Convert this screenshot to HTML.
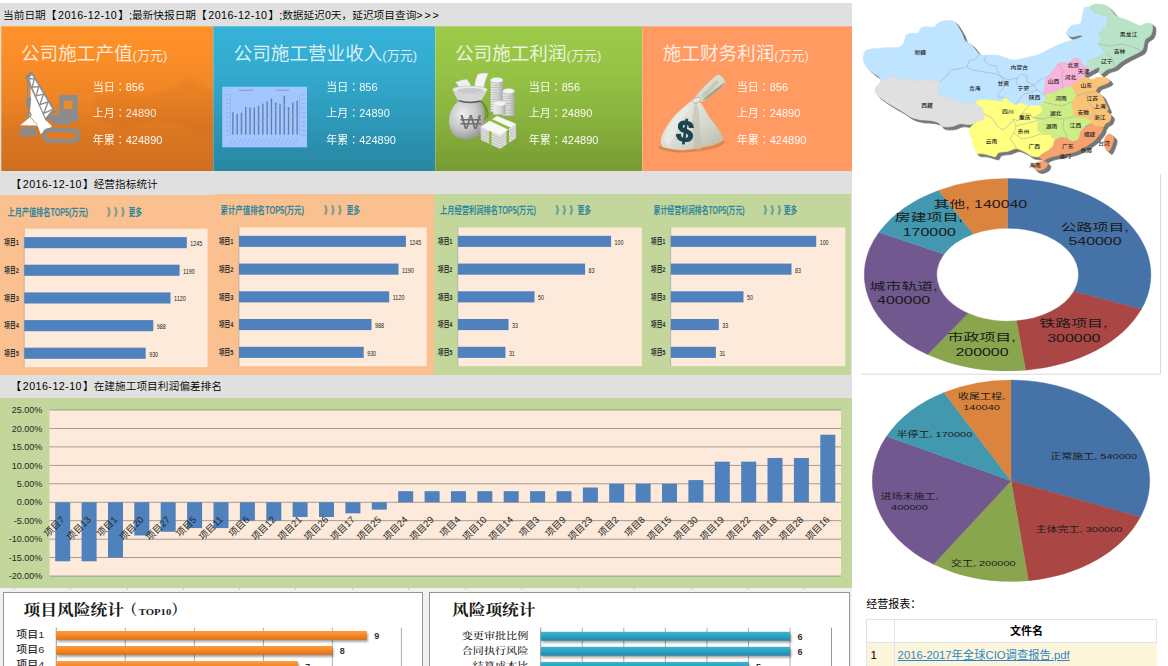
<!DOCTYPE html>
<html lang="zh-CN"><head><meta charset="utf-8"><title>经营看板</title>
<style>
html,body{margin:0;padding:0;background:#fff;}
body{width:1168px;height:666px;overflow:hidden;position:relative;font-family:"Liberation Sans","Noto Sans CJK SC",sans-serif;font-size:11px;color:#000;}
.abs{position:absolute;}
#left{position:absolute;left:0;top:3px;width:851.5px;height:588.5px;background:#e0e0e0;}
.bar{position:absolute;left:0;width:851.5px;white-space:nowrap;font-size:10.7px;line-height:14px;color:#000;font-weight:350;}
.bar b{font-weight:normal;letter-spacing:.45px;margin:0 1px 0 1.6px}
.card{position:absolute;top:26px;height:144.8px;overflow:hidden;box-shadow:inset 1px 1px 0 rgba(255,255,255,.22);}
.card .t{position:absolute;top:15px;white-space:nowrap;font-size:18.6px;line-height:26px;color:rgba(255,255,255,.82);}
.card .t small{font-size:13px;}
.card .l i{font-style:normal;font-family:"Liberation Sans","Noto Sans CJK JP",sans-serif;line-height:0}
.card .l{position:absolute;white-space:nowrap;font-size:11px;line-height:14px;color:#fff;opacity:.95}
svg{position:absolute;left:0;top:0;overflow:visible}
svg text{font-family:"Liberation Sans","Noto Sans CJK SC",sans-serif;}
.serif{font-family:"Liberation Serif","Noto Serif CJK SC",serif;}
</style></head>
<body>
<div id="left"></div>
<div class="bar" style="top:7.5px;left:3px">当前日期【<b>2016-12-10</b>】;最新快报日期【<b>2016-12-10</b>】;数据延迟0天，延迟项目查询<span style="letter-spacing:1.9px">&gt;&gt;&gt;</span></div>
<div class="card" style="left:1px;width:212.3px;background:linear-gradient(180deg,#ff9229 0%,#fa8c27 25%,#ee8425 50%,#dc7822 72%,#cd6d1f 100%)"><div class="t" style="left:20px">公司施工产值<small>(万元)</small></div><div class="l" style="left:91.7px;top:53.6px">当日<i lang="ja">：</i>856</div><div class="l" style="left:91.7px;top:80.4px">上月<i lang="ja">：</i>24890</div><div class="l" style="left:91.7px;top:107.2px">年累<i lang="ja">：</i>424890</div></div>
<div class="card" style="left:213.3px;width:221.5px;background:linear-gradient(180deg,#36b2d8 0%,#33abd0 30%,#2e9cbd 60%,#2a8eab 85%,#2888a3 100%)"><div class="t" style="left:20.3px">公司施工营业收入<small>(万元)</small></div><div class="l" style="left:112.9px;top:53.6px">当日<i lang="ja">：</i>856</div><div class="l" style="left:112.9px;top:80.4px">上月<i lang="ja">：</i>24890</div><div class="l" style="left:112.9px;top:107.2px">年累<i lang="ja">：</i>424890</div></div>
<div class="card" style="left:434.8px;width:207.2px;background:linear-gradient(180deg,#9dca4a 0%,#97c346 30%,#8ab53e 60%,#7ea537 85%,#789b34 100%)"><div class="t" style="left:20.2px">公司施工利润<small>(万元)</small></div><div class="l" style="left:93.9px;top:53.6px">当日<i lang="ja">：</i>856</div><div class="l" style="left:93.9px;top:80.4px">上月<i lang="ja">：</i>24890</div><div class="l" style="left:93.9px;top:107.2px">年累<i lang="ja">：</i>424890</div></div>
<div class="card" style="left:642px;width:209.5px;background:#ff9a63"><div class="t" style="left:20.7px">施工财务利润<small>(万元)</small></div><div class="l" style="left:94.7px;top:53.6px">当日<i lang="ja">：</i>856</div><div class="l" style="left:94.7px;top:80.4px">上月<i lang="ja">：</i>24890</div><div class="l" style="left:94.7px;top:107.2px">年累<i lang="ja">：</i>424890</div></div>
<div class="bar" style="top:176.7px;left:10.5px">【<b>2016-12-10</b>】经营指标统计</div>
<div class="abs" style="left:0;top:194.8px;width:213.6px;height:180px;background:#fac090"></div>
<div class="abs" style="left:213.6px;top:193.9px;width:220.3px;height:181px;border-top-left-radius:2px;background:#fac090"></div>
<div class="abs" style="left:433.8px;top:193.9px;width:417.7px;height:181px;background:#c3d69b"></div>
<svg width="1168" height="666" viewBox="0 0 1168 666"><rect x="24.2" y="228.75" width="183.4" height="138.4" fill="#fdeada"/><rect x="23.8" y="228.75" width="0.7" height="138.4" fill="#a8a8a8"/><rect x="24.2" y="237.1" width="162.6" height="11.1" fill="#4f81bd"/><text x="190.3" y="246.0" font-size="7.6" fill="#222" textLength="11.8" lengthAdjust="spacingAndGlyphs">1245</text><text x="4.3" y="245.4" font-size="8" fill="#303030" font-weight="bold" textLength="14.5" lengthAdjust="spacingAndGlyphs">项目1</text><rect x="24.2" y="264.7" width="155.4" height="11.1" fill="#4f81bd"/><text x="183.1" y="273.7" font-size="7.6" fill="#222" textLength="11.8" lengthAdjust="spacingAndGlyphs">1190</text><text x="4.3" y="273.1" font-size="8" fill="#303030" font-weight="bold" textLength="14.5" lengthAdjust="spacingAndGlyphs">项目2</text><rect x="24.2" y="292.4" width="146.3" height="11.1" fill="#4f81bd"/><text x="174.0" y="301.3" font-size="7.6" fill="#222" textLength="11.8" lengthAdjust="spacingAndGlyphs">1120</text><text x="4.3" y="300.7" font-size="8" fill="#303030" font-weight="bold" textLength="14.5" lengthAdjust="spacingAndGlyphs">项目3</text><rect x="24.2" y="320.1" width="129.1" height="11.1" fill="#4f81bd"/><text x="156.8" y="329.0" font-size="7.6" fill="#222" textLength="8.9" lengthAdjust="spacingAndGlyphs">988</text><text x="4.3" y="328.4" font-size="8" fill="#303030" font-weight="bold" textLength="14.5" lengthAdjust="spacingAndGlyphs">项目4</text><rect x="24.2" y="347.7" width="121.5" height="11.1" fill="#4f81bd"/><text x="149.2" y="356.7" font-size="7.6" fill="#222" textLength="8.9" lengthAdjust="spacingAndGlyphs">930</text><text x="4.3" y="356.1" font-size="8" fill="#303030" font-weight="bold" textLength="14.5" lengthAdjust="spacingAndGlyphs">项目5</text><text x="7.5" y="216.1" font-size="10.6" fill="#31869b" font-weight="bold" textLength="80.5" lengthAdjust="spacingAndGlyphs">上月产值排名TOP5(万元)</text><text x="107.0" y="216.1" font-size="10.6" fill="#31869b" font-weight="bold" textLength="6.8" lengthAdjust="spacingAndGlyphs">》</text><text x="114.0" y="216.1" font-size="10.6" fill="#31869b" font-weight="bold" textLength="6.8" lengthAdjust="spacingAndGlyphs">》</text><text x="121.0" y="216.1" font-size="10.6" fill="#31869b" font-weight="bold" textLength="6.8" lengthAdjust="spacingAndGlyphs">》</text><text x="128.4" y="216.1" font-size="10.6" fill="#31869b" font-weight="bold" textLength="13.6" lengthAdjust="spacingAndGlyphs">更多</text><rect x="239.0" y="227.5" width="187.7" height="138.7" fill="#fdeada"/><rect x="238.6" y="227.5" width="0.7" height="138.7" fill="#a8a8a8"/><rect x="239.0" y="235.8" width="166.9" height="11.1" fill="#4f81bd"/><text x="409.4" y="244.8" font-size="7.6" fill="#222" textLength="11.8" lengthAdjust="spacingAndGlyphs">1245</text><text x="218.9" y="244.2" font-size="8" fill="#303030" font-weight="bold" textLength="14.5" lengthAdjust="spacingAndGlyphs">项目1</text><rect x="239.0" y="263.6" width="159.5" height="11.1" fill="#4f81bd"/><text x="402.0" y="272.5" font-size="7.6" fill="#222" textLength="11.8" lengthAdjust="spacingAndGlyphs">1190</text><text x="218.9" y="271.9" font-size="8" fill="#303030" font-weight="bold" textLength="14.5" lengthAdjust="spacingAndGlyphs">项目2</text><rect x="239.0" y="291.3" width="150.2" height="11.1" fill="#4f81bd"/><text x="392.7" y="300.2" font-size="7.6" fill="#222" textLength="11.8" lengthAdjust="spacingAndGlyphs">1120</text><text x="218.9" y="299.7" font-size="8" fill="#303030" font-weight="bold" textLength="14.5" lengthAdjust="spacingAndGlyphs">项目3</text><rect x="239.0" y="319.0" width="132.5" height="11.1" fill="#4f81bd"/><text x="375.0" y="328.0" font-size="7.6" fill="#222" textLength="8.9" lengthAdjust="spacingAndGlyphs">988</text><text x="218.9" y="327.4" font-size="8" fill="#303030" font-weight="bold" textLength="14.5" lengthAdjust="spacingAndGlyphs">项目4</text><rect x="239.0" y="346.8" width="124.7" height="11.1" fill="#4f81bd"/><text x="367.2" y="355.7" font-size="7.6" fill="#222" textLength="8.9" lengthAdjust="spacingAndGlyphs">930</text><text x="218.9" y="355.1" font-size="8" fill="#303030" font-weight="bold" textLength="14.5" lengthAdjust="spacingAndGlyphs">项目5</text><text x="220.5" y="214.1" font-size="10.6" fill="#31869b" font-weight="bold" textLength="83.5" lengthAdjust="spacingAndGlyphs">累计产值排名TOP5(万元)</text><text x="324.0" y="214.1" font-size="10.6" fill="#31869b" font-weight="bold" textLength="6.8" lengthAdjust="spacingAndGlyphs">》</text><text x="331.0" y="214.1" font-size="10.6" fill="#31869b" font-weight="bold" textLength="6.8" lengthAdjust="spacingAndGlyphs">》</text><text x="338.0" y="214.1" font-size="10.6" fill="#31869b" font-weight="bold" textLength="6.8" lengthAdjust="spacingAndGlyphs">》</text><text x="346.4" y="214.1" font-size="10.6" fill="#31869b" font-weight="bold" textLength="13.6" lengthAdjust="spacingAndGlyphs">更多</text><rect x="457.9" y="227.5" width="183.9" height="138.7" fill="#fdeada"/><rect x="457.5" y="227.5" width="0.7" height="138.7" fill="#a8a8a8"/><rect x="457.9" y="235.8" width="153.2" height="11.1" fill="#4f81bd"/><text x="614.6" y="244.8" font-size="7.6" fill="#222" textLength="8.9" lengthAdjust="spacingAndGlyphs">100</text><text x="438.0" y="244.2" font-size="8" fill="#303030" font-weight="bold" textLength="14.5" lengthAdjust="spacingAndGlyphs">项目1</text><rect x="457.9" y="263.6" width="127.2" height="11.1" fill="#4f81bd"/><text x="588.6" y="272.5" font-size="7.6" fill="#222" textLength="5.9" lengthAdjust="spacingAndGlyphs">83</text><text x="438.0" y="271.9" font-size="8" fill="#303030" font-weight="bold" textLength="14.5" lengthAdjust="spacingAndGlyphs">项目2</text><rect x="457.9" y="291.3" width="76.6" height="11.1" fill="#4f81bd"/><text x="538.0" y="300.2" font-size="7.6" fill="#222" textLength="5.9" lengthAdjust="spacingAndGlyphs">50</text><text x="438.0" y="299.7" font-size="8" fill="#303030" font-weight="bold" textLength="14.5" lengthAdjust="spacingAndGlyphs">项目3</text><rect x="457.9" y="319.0" width="50.6" height="11.1" fill="#4f81bd"/><text x="512.0" y="328.0" font-size="7.6" fill="#222" textLength="5.9" lengthAdjust="spacingAndGlyphs">33</text><text x="438.0" y="327.4" font-size="8" fill="#303030" font-weight="bold" textLength="14.5" lengthAdjust="spacingAndGlyphs">项目4</text><rect x="457.9" y="346.8" width="47.5" height="11.1" fill="#4f81bd"/><text x="508.9" y="355.7" font-size="7.6" fill="#222" textLength="5.9" lengthAdjust="spacingAndGlyphs">31</text><text x="438.0" y="355.1" font-size="8" fill="#303030" font-weight="bold" textLength="14.5" lengthAdjust="spacingAndGlyphs">项目5</text><text x="440" y="214.1" font-size="10.6" fill="#31869b" font-weight="bold" textLength="96" lengthAdjust="spacingAndGlyphs">上月经营利润排名TOP5(万元)</text><text x="555.4" y="214.1" font-size="10.6" fill="#31869b" font-weight="bold" textLength="6.8" lengthAdjust="spacingAndGlyphs">》</text><text x="562.4" y="214.1" font-size="10.6" fill="#31869b" font-weight="bold" textLength="6.8" lengthAdjust="spacingAndGlyphs">》</text><text x="569.4" y="214.1" font-size="10.6" fill="#31869b" font-weight="bold" textLength="6.8" lengthAdjust="spacingAndGlyphs">》</text><text x="577.4" y="214.1" font-size="10.6" fill="#31869b" font-weight="bold" textLength="13.6" lengthAdjust="spacingAndGlyphs">更多</text><rect x="670.8" y="227.5" width="174.5" height="138.7" fill="#fdeada"/><rect x="670.4" y="227.5" width="0.7" height="138.7" fill="#a8a8a8"/><rect x="670.8" y="235.8" width="145.4" height="11.1" fill="#4f81bd"/><text x="819.7" y="244.8" font-size="7.6" fill="#222" textLength="8.9" lengthAdjust="spacingAndGlyphs">100</text><text x="651.0" y="244.2" font-size="8" fill="#303030" font-weight="bold" textLength="14.5" lengthAdjust="spacingAndGlyphs">项目1</text><rect x="670.8" y="263.6" width="120.7" height="11.1" fill="#4f81bd"/><text x="795.0" y="272.5" font-size="7.6" fill="#222" textLength="5.9" lengthAdjust="spacingAndGlyphs">83</text><text x="651.0" y="271.9" font-size="8" fill="#303030" font-weight="bold" textLength="14.5" lengthAdjust="spacingAndGlyphs">项目2</text><rect x="670.8" y="291.3" width="72.7" height="11.1" fill="#4f81bd"/><text x="747.0" y="300.2" font-size="7.6" fill="#222" textLength="5.9" lengthAdjust="spacingAndGlyphs">50</text><text x="651.0" y="299.7" font-size="8" fill="#303030" font-weight="bold" textLength="14.5" lengthAdjust="spacingAndGlyphs">项目3</text><rect x="670.8" y="319.0" width="48.0" height="11.1" fill="#4f81bd"/><text x="722.3" y="328.0" font-size="7.6" fill="#222" textLength="5.9" lengthAdjust="spacingAndGlyphs">33</text><text x="651.0" y="327.4" font-size="8" fill="#303030" font-weight="bold" textLength="14.5" lengthAdjust="spacingAndGlyphs">项目4</text><rect x="670.8" y="346.8" width="45.1" height="11.1" fill="#4f81bd"/><text x="719.4" y="355.7" font-size="7.6" fill="#222" textLength="5.9" lengthAdjust="spacingAndGlyphs">31</text><text x="651.0" y="355.1" font-size="8" fill="#303030" font-weight="bold" textLength="14.5" lengthAdjust="spacingAndGlyphs">项目5</text><text x="653.6" y="214.1" font-size="10.6" fill="#31869b" font-weight="bold" textLength="91.0" lengthAdjust="spacingAndGlyphs">累计经营利润排名TOP5(万元)</text><text x="763.4" y="214.1" font-size="10.6" fill="#31869b" font-weight="bold" textLength="6.8" lengthAdjust="spacingAndGlyphs">》</text><text x="770.4" y="214.1" font-size="10.6" fill="#31869b" font-weight="bold" textLength="6.8" lengthAdjust="spacingAndGlyphs">》</text><text x="777.4" y="214.1" font-size="10.6" fill="#31869b" font-weight="bold" textLength="6.8" lengthAdjust="spacingAndGlyphs">》</text><text x="783.8" y="214.1" font-size="10.6" fill="#31869b" font-weight="bold" textLength="13.6" lengthAdjust="spacingAndGlyphs">更多</text></svg>
<div class="bar" style="top:379.2px;left:10.5px">【<b>2016-12-10</b>】在建施工项目利润偏差排名</div>
<div class="abs" style="left:0;top:398px;width:851.5px;height:189.7px;background:#c3d69b"></div><svg width="1168" height="666" viewBox="0 0 1168 666"><rect x="49.5" y="410.00" width="791.5" height="166.05" fill="#fdeada"/><rect x="49.5" y="575.65" width="791.5" height="0.8" fill="#8a8a8a"/><text x="42.3" y="579.2" font-size="9" fill="#262626" text-anchor="end">-20.00%</text><rect x="49.5" y="557.20" width="791.5" height="0.8" fill="#8a8a8a"/><text x="42.3" y="560.8" font-size="9" fill="#262626" text-anchor="end">-15.00%</text><rect x="49.5" y="538.75" width="791.5" height="0.8" fill="#8a8a8a"/><text x="42.3" y="542.4" font-size="9" fill="#262626" text-anchor="end">-10.00%</text><rect x="49.5" y="520.30" width="791.5" height="0.8" fill="#8a8a8a"/><text x="42.3" y="523.9" font-size="9" fill="#262626" text-anchor="end">-5.00%</text><rect x="49.5" y="501.85" width="791.5" height="0.8" fill="#8a8a8a"/><text x="42.3" y="505.4" font-size="9" fill="#262626" text-anchor="end">0.00%</text><rect x="49.5" y="483.40" width="791.5" height="0.8" fill="#8a8a8a"/><text x="42.3" y="487.0" font-size="9" fill="#262626" text-anchor="end">5.00%</text><rect x="49.5" y="464.95" width="791.5" height="0.8" fill="#8a8a8a"/><text x="42.3" y="468.6" font-size="9" fill="#262626" text-anchor="end">10.00%</text><rect x="49.5" y="446.50" width="791.5" height="0.8" fill="#8a8a8a"/><text x="42.3" y="450.1" font-size="9" fill="#262626" text-anchor="end">15.00%</text><rect x="49.5" y="428.05" width="791.5" height="0.8" fill="#8a8a8a"/><text x="42.3" y="431.6" font-size="9" fill="#262626" text-anchor="end">20.00%</text><rect x="49.5" y="409.60" width="791.5" height="0.8" fill="#8a8a8a"/><text x="42.3" y="413.2" font-size="9" fill="#262626" text-anchor="end">25.00%</text><rect x="55.2" y="502.25" width="15.0" height="59.04" fill="#4f81bd"/><rect x="81.6" y="502.25" width="15.0" height="59.04" fill="#4f81bd"/><rect x="108.0" y="502.25" width="15.0" height="55.35" fill="#4f81bd"/><rect x="134.3" y="502.25" width="15.0" height="33.21" fill="#4f81bd"/><rect x="160.7" y="502.25" width="15.0" height="29.52" fill="#4f81bd"/><rect x="187.1" y="502.25" width="15.0" height="25.83" fill="#4f81bd"/><rect x="213.5" y="502.25" width="15.0" height="25.83" fill="#4f81bd"/><rect x="239.9" y="502.25" width="15.0" height="18.45" fill="#4f81bd"/><rect x="266.3" y="502.25" width="15.0" height="18.45" fill="#4f81bd"/><rect x="292.6" y="502.25" width="15.0" height="14.76" fill="#4f81bd"/><rect x="319.0" y="502.25" width="15.0" height="14.76" fill="#4f81bd"/><rect x="345.4" y="502.25" width="15.0" height="11.07" fill="#4f81bd"/><rect x="371.8" y="502.25" width="15.0" height="7.38" fill="#4f81bd"/><rect x="398.2" y="491.18" width="15.0" height="11.07" fill="#4f81bd"/><rect x="424.6" y="491.18" width="15.0" height="11.07" fill="#4f81bd"/><rect x="450.9" y="491.18" width="15.0" height="11.07" fill="#4f81bd"/><rect x="477.3" y="491.18" width="15.0" height="11.07" fill="#4f81bd"/><rect x="503.7" y="491.18" width="15.0" height="11.07" fill="#4f81bd"/><rect x="530.1" y="491.18" width="15.0" height="11.07" fill="#4f81bd"/><rect x="556.5" y="491.18" width="15.0" height="11.07" fill="#4f81bd"/><rect x="582.9" y="487.49" width="15.0" height="14.76" fill="#4f81bd"/><rect x="609.2" y="483.80" width="15.0" height="18.45" fill="#4f81bd"/><rect x="635.6" y="483.80" width="15.0" height="18.45" fill="#4f81bd"/><rect x="662.0" y="483.80" width="15.0" height="18.45" fill="#4f81bd"/><rect x="688.4" y="480.11" width="15.0" height="22.14" fill="#4f81bd"/><rect x="714.8" y="461.66" width="15.0" height="40.59" fill="#4f81bd"/><rect x="741.2" y="461.66" width="15.0" height="40.59" fill="#4f81bd"/><rect x="767.5" y="457.97" width="15.0" height="44.28" fill="#4f81bd"/><rect x="793.9" y="457.97" width="15.0" height="44.28" fill="#4f81bd"/><rect x="820.3" y="434.72" width="15.0" height="67.53" fill="#4f81bd"/><text transform="translate(65.2,520.3) rotate(-45)" font-size="9.5" fill="#262626" text-anchor="end">项目7</text><text transform="translate(91.6,520.3) rotate(-45)" font-size="9.5" fill="#262626" text-anchor="end">项目13</text><text transform="translate(118.0,520.3) rotate(-45)" font-size="9.5" fill="#262626" text-anchor="end">项目1</text><text transform="translate(144.3,520.3) rotate(-45)" font-size="9.5" fill="#262626" text-anchor="end">项目20</text><text transform="translate(170.7,520.3) rotate(-45)" font-size="9.5" fill="#262626" text-anchor="end">项目27</text><text transform="translate(197.1,520.3) rotate(-45)" font-size="9.5" fill="#262626" text-anchor="end">项目5</text><text transform="translate(223.5,520.3) rotate(-45)" font-size="9.5" fill="#262626" text-anchor="end">项目11</text><text transform="translate(249.9,520.3) rotate(-45)" font-size="9.5" fill="#262626" text-anchor="end">项目6</text><text transform="translate(276.3,520.3) rotate(-45)" font-size="9.5" fill="#262626" text-anchor="end">项目12</text><text transform="translate(302.6,520.3) rotate(-45)" font-size="9.5" fill="#262626" text-anchor="end">项目21</text><text transform="translate(329.0,520.3) rotate(-45)" font-size="9.5" fill="#262626" text-anchor="end">项目26</text><text transform="translate(355.4,520.3) rotate(-45)" font-size="9.5" fill="#262626" text-anchor="end">项目17</text><text transform="translate(381.8,520.3) rotate(-45)" font-size="9.5" fill="#262626" text-anchor="end">项目25</text><text transform="translate(408.2,520.3) rotate(-45)" font-size="9.5" fill="#262626" text-anchor="end">项目24</text><text transform="translate(434.6,520.3) rotate(-45)" font-size="9.5" fill="#262626" text-anchor="end">项目29</text><text transform="translate(460.9,520.3) rotate(-45)" font-size="9.5" fill="#262626" text-anchor="end">项目4</text><text transform="translate(487.3,520.3) rotate(-45)" font-size="9.5" fill="#262626" text-anchor="end">项目10</text><text transform="translate(513.7,520.3) rotate(-45)" font-size="9.5" fill="#262626" text-anchor="end">项目14</text><text transform="translate(540.1,520.3) rotate(-45)" font-size="9.5" fill="#262626" text-anchor="end">项目3</text><text transform="translate(566.5,520.3) rotate(-45)" font-size="9.5" fill="#262626" text-anchor="end">项目9</text><text transform="translate(592.9,520.3) rotate(-45)" font-size="9.5" fill="#262626" text-anchor="end">项目23</text><text transform="translate(619.2,520.3) rotate(-45)" font-size="9.5" fill="#262626" text-anchor="end">项目2</text><text transform="translate(645.6,520.3) rotate(-45)" font-size="9.5" fill="#262626" text-anchor="end">项目8</text><text transform="translate(672.0,520.3) rotate(-45)" font-size="9.5" fill="#262626" text-anchor="end">项目15</text><text transform="translate(698.4,520.3) rotate(-45)" font-size="9.5" fill="#262626" text-anchor="end">项目30</text><text transform="translate(724.8,520.3) rotate(-45)" font-size="9.5" fill="#262626" text-anchor="end">项目19</text><text transform="translate(751.2,520.3) rotate(-45)" font-size="9.5" fill="#262626" text-anchor="end">项目22</text><text transform="translate(777.5,520.3) rotate(-45)" font-size="9.5" fill="#262626" text-anchor="end">项目18</text><text transform="translate(803.9,520.3) rotate(-45)" font-size="9.5" fill="#262626" text-anchor="end">项目28</text><text transform="translate(830.3,520.3) rotate(-45)" font-size="9.5" fill="#262626" text-anchor="end">项目16</text></svg>
<div class="abs" style="left:0;top:587.7px;width:851.5px;height:78.3px;background:#f1f1f1"></div><div class="abs" style="left:13.8px;top:587.7px;width:1px;height:2px;background:#d0d0d0"></div><div class="abs" style="left:70.3px;top:587.7px;width:1px;height:2px;background:#d0d0d0"></div><div class="abs" style="left:126.8px;top:587.7px;width:1px;height:2px;background:#d0d0d0"></div><div class="abs" style="left:182.8px;top:587.7px;width:1px;height:2px;background:#d0d0d0"></div><div class="abs" style="left:238.8px;top:587.7px;width:1px;height:2px;background:#d0d0d0"></div><div class="abs" style="left:295.3px;top:587.7px;width:1px;height:2px;background:#d0d0d0"></div><div class="abs" style="left:351.8px;top:587.7px;width:1px;height:2px;background:#d0d0d0"></div><div class="abs" style="left:408.3px;top:587.7px;width:1px;height:2px;background:#d0d0d0"></div><div class="abs" style="left:464.8px;top:587.7px;width:1px;height:2px;background:#d0d0d0"></div><div class="abs" style="left:521.3px;top:587.7px;width:1px;height:2px;background:#d0d0d0"></div><div class="abs" style="left:577.8px;top:587.7px;width:1px;height:2px;background:#d0d0d0"></div><div class="abs" style="left:634.3px;top:587.7px;width:1px;height:2px;background:#d0d0d0"></div><div class="abs" style="left:690.8px;top:587.7px;width:1px;height:2px;background:#d0d0d0"></div><div class="abs" style="left:747.3px;top:587.7px;width:1px;height:2px;background:#d0d0d0"></div><div class="abs" style="left:803.8px;top:587.7px;width:1px;height:2px;background:#d0d0d0"></div><div class="abs" style="left:3px;top:591.6px;width:418px;height:80px;background:#fff;border:1px solid #949494"></div><div class="abs" style="left:429.3px;top:591.6px;width:419.2px;height:80px;background:#fff;border:1px solid #949494"></div><svg width="1168" height="666" viewBox="0 0 1168 666"><defs><linearGradient id="gO" x1="0" y1="0" x2="0" y2="1"><stop offset="0" stop-color="#ff9a38"/><stop offset="0.45" stop-color="#f68a2a"/><stop offset="1" stop-color="#d9701c"/></linearGradient><linearGradient id="gT" x1="0" y1="0" x2="0" y2="1"><stop offset="0" stop-color="#3cb4d4"/><stop offset="0.45" stop-color="#2fa3c4"/><stop offset="1" stop-color="#2288a6"/></linearGradient><filter id="sh" x="-5%" y="-50%" width="110%" height="220%"><feGaussianBlur stdDeviation="1.1"/></filter></defs><text class="serif" x="23.5" y="615.3" font-size="14.6" font-weight="bold" fill="#1a1a1a" textLength="100.5" lengthAdjust="spacingAndGlyphs">项目风险统计</text><text class="serif" x="122.6" y="615.3" font-size="14.6" font-weight="bold" fill="#1a1a1a">（</text><text class="serif" x="138.8" y="614.6" font-size="9" font-weight="bold" fill="#1a1a1a" textLength="32.5" lengthAdjust="spacingAndGlyphs">TOP10</text><text class="serif" x="171.5" y="615.3" font-size="14.6" font-weight="bold" fill="#1a1a1a">）</text><rect x="55.8" y="627.6" width="0.9" height="40" fill="#8c8c8c"/><rect x="124.8" y="627.6" width="0.9" height="40" fill="#a6a6a6"/><rect x="193.9" y="627.6" width="0.9" height="40" fill="#a6a6a6"/><rect x="262.9" y="627.6" width="0.9" height="40" fill="#a6a6a6"/><rect x="331.9" y="627.6" width="0.9" height="40" fill="#a6a6a6"/><rect x="400.9" y="627.6" width="0.9" height="40" fill="#a6a6a6"/><rect x="57.5" y="633.0" width="310.5" height="8.9" fill="#000" opacity="0.35" filter="url(#sh)"/><rect x="56.3" y="631.0" width="310.5" height="8.9" fill="url(#gO)"/><text x="16.3" y="638.3" font-size="9.7" fill="#333" font-weight="500" textLength="28" lengthAdjust="spacingAndGlyphs">项目1</text><text x="374.3" y="639.4" font-size="9" fill="#333" font-weight="bold">9</text><rect x="57.5" y="648.0" width="276.0" height="8.9" fill="#000" opacity="0.35" filter="url(#sh)"/><rect x="56.3" y="646.0" width="276.0" height="8.9" fill="url(#gO)"/><text x="16.3" y="653.3" font-size="9.7" fill="#333" font-weight="500" textLength="28" lengthAdjust="spacingAndGlyphs">项目6</text><text x="339.8" y="654.4" font-size="9" fill="#333" font-weight="bold">8</text><rect x="57.5" y="663.1" width="241.5" height="8.9" fill="#000" opacity="0.35" filter="url(#sh)"/><rect x="56.3" y="661.1" width="241.5" height="8.9" fill="url(#gO)"/><text x="16.3" y="668.4" font-size="9.7" fill="#333" font-weight="500" textLength="28" lengthAdjust="spacingAndGlyphs">项目4</text><text x="305.3" y="669.5" font-size="9" fill="#333" font-weight="bold">7</text><text class="serif" x="452" y="615.3" font-size="14.6" font-weight="bold" fill="#1a1a1a" textLength="83.5" lengthAdjust="spacingAndGlyphs">风险项统计</text><rect x="540.3" y="627.6" width="0.9" height="40" fill="#8c8c8c"/><rect x="581.8" y="627.6" width="0.9" height="40" fill="#a6a6a6"/><rect x="623.4" y="627.6" width="0.9" height="40" fill="#a6a6a6"/><rect x="664.9" y="627.6" width="0.9" height="40" fill="#a6a6a6"/><rect x="706.5" y="627.6" width="0.9" height="40" fill="#a6a6a6"/><rect x="748.0" y="627.6" width="0.9" height="40" fill="#a6a6a6"/><rect x="789.6" y="627.6" width="0.9" height="40" fill="#a6a6a6"/><rect x="831.1" y="627.6" width="0.9" height="40" fill="#8c8c8c"/><rect x="542" y="633.8" width="249.3" height="8.9" fill="#000" opacity="0.35" filter="url(#sh)"/><rect x="540.75" y="631.8" width="249.3" height="8.9" fill="url(#gT)"/><text class="serif" x="461.7" y="639.2" font-size="9.6" fill="#222" font-weight="500" textLength="66.6" lengthAdjust="spacingAndGlyphs">变更审批比例</text><text x="797.5" y="640.2" font-size="9" fill="#333" font-weight="bold">6</text><rect x="542" y="648.8" width="249.3" height="8.9" fill="#000" opacity="0.35" filter="url(#sh)"/><rect x="540.75" y="646.8" width="249.3" height="8.9" fill="url(#gT)"/><text class="serif" x="461.7" y="654.2" font-size="9.6" fill="#222" font-weight="500" textLength="66.6" lengthAdjust="spacingAndGlyphs">合同执行风险</text><text x="797.5" y="655.2" font-size="9" fill="#333" font-weight="bold">6</text><rect x="542" y="663.9" width="207.8" height="8.9" fill="#000" opacity="0.35" filter="url(#sh)"/><rect x="540.75" y="661.9" width="207.8" height="8.9" fill="url(#gT)"/><text class="serif" x="472.8" y="669.3" font-size="9.6" fill="#222" font-weight="500" textLength="55.5" lengthAdjust="spacingAndGlyphs">结算成本比</text><text x="756.0" y="670.3" font-size="9" fill="#333" font-weight="bold">5</text></svg>
<svg width="1168" height="666" viewBox="0 0 1168 666"><defs><filter id="mb" x="-5%" y="-5%" width="110%" height="110%"><feGaussianBlur stdDeviation="0.5"/></filter></defs><g transform="translate(3.3,3)" fill="#777" stroke="#777" stroke-width="0.8" filter="url(#mb)"><path d="M864.2,53.8C864.6,52.6 864.9,51.1 866.3,50.4C867.7,49.7 870.8,49.2 873.8,48.8C876.8,48.4 884.0,47.9 887.5,47.7C891.0,47.5 896.2,48.0 898.5,47.3C900.8,46.6 902.8,44.6 903.9,42.9C905.0,41.2 905.0,36.6 906.0,35.3C907.0,34.0 909.0,33.9 910.8,33.6C912.6,33.3 916.9,33.7 918.3,33.0C919.7,32.3 919.5,29.4 920.4,28.5C921.3,27.6 922.5,26.9 924.5,26.7C926.5,26.5 932.1,27.6 934.1,27.1C936.1,26.6 936.8,23.9 938.2,23.0C939.6,22.1 941.7,21.3 943.7,21.0C945.7,20.7 950.1,20.3 951.9,20.7C953.7,21.1 954.6,22.0 956.0,23.7C957.4,25.4 960.2,30.2 961.5,32.6C962.8,35.0 963.5,39.1 964.9,40.8C966.3,42.5 969.4,42.7 971.1,44.2C972.8,45.7 975.3,49.6 976.5,51.1C977.7,52.6 977.9,53.9 979.3,54.5C980.7,55.1 984.0,55.2 986.6,55.3C989.2,55.4 994.8,54.9 997.5,55.3C1000.2,55.7 1003.4,57.4 1005.8,58.1C1008.2,58.8 1011.3,60.1 1014.0,60.1C1016.7,60.1 1021.4,58.9 1024.9,58.1C1028.4,57.3 1035.5,55.8 1038.6,54.7C1041.7,53.6 1044.3,51.8 1046.8,50.5C1049.3,49.2 1053.5,47.1 1056.4,45.8C1059.3,44.5 1064.5,42.6 1067.4,41.6C1070.3,40.6 1074.8,39.7 1077.0,38.9C1079.2,38.1 1082.1,36.7 1082.5,36.2C1082.9,35.7 1081.6,35.2 1080.0,35.3C1078.4,35.4 1073.5,37.0 1071.5,36.8C1069.5,36.6 1066.3,35.1 1066.2,33.6C1066.1,32.1 1068.9,27.5 1071.0,26.0C1073.1,24.5 1078.9,25.1 1080.6,23.3C1082.3,21.5 1082.1,16.0 1082.7,13.7C1083.3,11.4 1083.8,8.4 1084.7,7.5C1085.6,6.6 1088.0,7.4 1088.8,7.5C1089.6,7.6 1089.2,7.4 1090.2,8.2C1091.2,9.0 1094.1,12.0 1095.7,13.0C1097.3,14.0 1099.6,14.6 1101.2,15.1C1102.8,15.6 1105.7,15.1 1106.6,16.4C1107.5,17.7 1107.9,22.1 1107.3,24.0C1106.7,25.9 1103.8,28.0 1102.5,29.5C1101.2,31.0 1098.6,32.8 1098.4,34.2C1098.2,35.6 1101.2,37.6 1101.2,39.0C1101.2,40.4 1098.2,42.3 1098.4,43.8C1098.6,45.3 1101.3,47.9 1102.5,49.3C1103.7,50.7 1106.8,52.6 1106.6,53.4C1106.4,54.2 1103.0,54.0 1101.2,54.8C1099.4,55.6 1096.1,58.1 1094.3,58.9C1092.5,59.7 1090.0,59.1 1088.8,60.3C1087.6,61.5 1087.1,66.5 1086.1,67.1C1085.1,67.7 1082.8,65.4 1082.0,64.4C1081.2,63.4 1081.6,61.2 1080.6,60.3C1079.6,59.4 1076.9,57.8 1075.1,58.2C1073.3,58.6 1070.1,62.4 1068.3,63.0C1066.5,63.6 1064.3,62.2 1062.8,62.3C1061.3,62.4 1059.4,62.4 1058.0,63.7C1056.6,65.0 1054.7,69.3 1053.2,71.2C1051.7,73.1 1048.9,74.7 1047.7,76.7C1046.5,78.7 1045.5,82.3 1045.0,84.9C1044.5,87.5 1044.3,93.1 1044.5,95.1C1044.7,97.1 1046.7,98.2 1046.6,99.2C1046.5,100.2 1044.8,100.9 1043.8,101.9C1042.8,102.9 1041.8,105.4 1039.7,106.0C1037.6,106.6 1031.3,106.4 1028.8,106.0C1026.3,105.6 1023.9,103.5 1021.9,103.3C1019.9,103.1 1017.1,105.1 1015.1,104.7C1013.1,104.3 1009.6,101.5 1008.2,100.5C1006.8,99.5 1006.3,97.6 1005.3,97.8C1004.3,98.0 1002.6,101.5 1001.2,101.9C999.8,102.3 998.0,100.8 995.7,100.5C993.4,100.2 987.3,99.9 984.8,99.9C982.3,99.9 979.1,100.0 977.9,100.5C976.7,101.0 978.3,102.8 976.5,103.3C974.7,103.8 968.3,104.4 965.6,104.0C962.9,103.6 959.7,101.3 957.4,100.5C955.1,99.7 951.6,99.1 949.2,98.5C946.8,97.9 942.6,97.7 940.9,96.4C939.2,95.1 937.7,91.6 937.5,89.6C937.3,87.6 939.3,83.8 939.6,82.7C939.9,81.6 941.0,82.3 939.6,81.9C938.2,81.5 933.3,80.1 930.0,79.9C926.7,79.7 920.2,80.6 916.3,80.5C912.4,80.4 906.5,79.6 902.6,79.2C898.7,78.8 891.9,77.1 888.9,77.4C885.9,77.7 882.7,81.2 881.3,81.2C879.9,81.2 880.8,78.5 879.3,77.1C877.8,75.7 873.1,73.5 871.0,71.6C868.9,69.7 866.0,66.0 864.9,64.1C863.8,62.2 863.6,60.0 863.5,58.5C863.4,57.0 863.8,55.0 864.2,53.8Z"/><path d="M881.3,81.2C880.4,82.2 875.8,86.2 875.2,88.2C874.6,90.2 876.0,93.4 877.2,95.1C878.4,96.8 881.3,98.4 883.4,99.9C885.5,101.4 889.1,103.7 891.6,105.3C894.1,106.9 898.5,109.1 901.2,110.8C903.9,112.5 908.1,115.7 910.8,117.0C913.5,118.3 917.7,119.2 920.4,119.7C923.1,120.2 927.5,120.0 930.0,120.4C932.5,120.8 936.4,121.6 938.2,122.5C940.0,123.4 940.3,126.0 942.3,126.6C944.3,127.2 949.4,127.0 951.9,126.6C954.4,126.2 957.6,124.1 960.1,123.8C962.6,123.5 967.4,124.7 969.7,124.5C972.0,124.3 974.5,123.2 976.5,122.5C978.5,121.8 982.2,120.9 983.4,119.7C984.6,118.5 985.0,116.0 984.8,114.2C984.6,112.4 983.2,109.0 982.0,107.4C980.8,105.8 978.8,103.8 976.5,103.3C974.2,102.8 968.3,104.4 965.6,104.0C962.9,103.6 959.7,101.3 957.4,100.5C955.1,99.7 951.6,99.1 949.2,98.5C946.8,97.9 942.6,97.7 940.9,96.4C939.2,95.1 937.7,91.6 937.5,89.6C937.3,87.6 939.3,83.8 939.6,82.7C939.9,81.6 941.0,82.3 939.6,81.9C938.2,81.5 933.3,80.1 930.0,79.9C926.7,79.7 920.2,80.6 916.3,80.5C912.4,80.4 906.5,79.6 902.6,79.2C898.7,78.8 891.9,77.1 888.9,77.4C885.9,77.7 882.4,80.7 881.3,81.2C880.2,81.7 882.2,80.2 881.3,81.2Z"/><path d="M1088.8,7.5C1088.8,7.2 1089.2,6.7 1090.2,6.2C1091.2,5.7 1093.7,4.3 1095.7,4.1C1097.7,3.9 1101.9,4.2 1103.9,4.8C1105.9,5.4 1107.6,6.6 1109.4,8.2C1111.2,9.8 1114.1,14.2 1116.2,15.8C1118.3,17.4 1121.9,18.1 1124.4,19.2C1126.9,20.3 1131.8,22.3 1134.0,23.3C1136.2,24.3 1137.7,26.0 1139.5,26.0C1141.3,26.0 1144.6,23.6 1146.4,23.3C1148.2,23.0 1150.9,23.1 1151.8,24.0C1152.7,24.9 1152.7,27.8 1152.5,29.5C1152.3,31.2 1151.6,34.1 1150.5,35.6C1149.4,37.1 1146.0,38.1 1145.0,39.7C1144.0,41.3 1144.1,45.0 1143.6,46.6C1143.1,48.2 1142.8,49.6 1141.6,50.7C1140.4,51.8 1137.3,53.1 1135.4,54.1C1133.5,55.1 1130.7,56.3 1128.5,57.5C1126.3,58.7 1122.3,60.9 1120.3,62.3C1118.3,63.7 1116.8,66.0 1114.8,67.1C1112.8,68.2 1108.5,68.9 1106.6,69.9C1104.7,70.9 1102.3,73.7 1101.2,74.0C1100.1,74.3 1099.3,72.9 1099.1,71.9C1098.9,70.9 1100.3,67.6 1099.8,67.1C1099.3,66.6 1097.1,67.9 1095.7,68.5C1094.3,69.1 1091.6,71.4 1090.2,71.2C1088.8,71.0 1086.7,67.7 1086.1,67.1C1085.5,66.5 1085.7,68.1 1086.1,67.1C1086.5,66.1 1087.6,61.5 1088.8,60.3C1090.0,59.1 1092.5,59.7 1094.3,58.9C1096.1,58.1 1099.4,55.6 1101.2,54.8C1103.0,54.0 1106.4,54.2 1106.6,53.4C1106.8,52.6 1103.7,50.7 1102.5,49.3C1101.3,47.9 1098.6,45.3 1098.4,43.8C1098.2,42.3 1101.2,40.4 1101.2,39.0C1101.2,37.6 1098.2,35.6 1098.4,34.2C1098.6,32.8 1101.2,31.0 1102.5,29.5C1103.8,28.0 1106.7,25.9 1107.3,24.0C1107.9,22.1 1107.5,17.7 1106.6,16.4C1105.7,15.1 1102.8,15.6 1101.2,15.1C1099.6,14.6 1097.3,14.0 1095.7,13.0C1094.1,12.0 1091.2,9.0 1090.2,8.2C1089.2,7.4 1088.8,7.8 1088.8,7.5Z"/><path d="M1058.0,63.7C1059.4,62.4 1061.3,62.4 1062.8,62.3C1064.3,62.2 1066.5,63.6 1068.3,63.0C1070.1,62.4 1073.3,58.6 1075.1,58.2C1076.9,57.8 1079.6,59.4 1080.6,60.3C1081.6,61.2 1081.2,63.4 1082.0,64.4C1082.8,65.4 1084.9,66.1 1086.1,67.1C1087.3,68.1 1090.4,70.1 1090.2,71.2C1090.0,72.3 1085.5,73.8 1084.7,74.7C1083.9,75.6 1085.9,76.4 1084.7,77.4C1083.5,78.4 1078.4,80.2 1076.5,81.5C1074.6,82.8 1073.1,85.8 1071.2,86.8C1069.3,87.8 1065.3,87.4 1063.0,88.2C1060.7,89.0 1057.4,91.3 1054.8,92.3C1052.2,93.3 1045.9,96.2 1044.5,95.1C1043.1,94.0 1044.5,87.5 1045.0,84.9C1045.5,82.3 1046.5,78.7 1047.7,76.7C1048.9,74.7 1051.7,73.1 1053.2,71.2C1054.7,69.3 1056.6,65.0 1058.0,63.7Z"/><path d="M1071.2,86.8C1072.0,86.0 1074.6,82.8 1076.5,81.5C1078.4,80.2 1082.5,77.7 1084.7,77.4C1086.9,77.1 1089.8,79.5 1091.6,79.5C1093.4,79.5 1094.9,77.6 1097.0,77.4C1099.1,77.2 1104.8,77.5 1106.6,78.1C1108.4,78.7 1109.8,80.5 1109.6,81.4C1109.4,82.3 1107.1,83.3 1105.5,84.1C1103.9,84.9 1100.0,85.7 1098.6,86.8C1097.2,87.9 1095.5,90.4 1095.9,91.6C1096.3,92.8 1100.0,93.4 1101.4,95.1C1102.8,96.8 1104.5,101.2 1105.5,103.3C1106.5,105.4 1108.0,108.3 1108.2,109.5C1108.4,110.7 1106.4,110.6 1106.8,111.5C1107.2,112.4 1110.6,114.2 1111.0,115.6C1111.4,117.0 1110.4,119.9 1109.6,121.1C1108.8,122.3 1106.5,122.9 1105.5,123.8C1104.5,124.7 1104.1,126.9 1102.7,127.3C1101.3,127.7 1097.7,127.1 1095.9,126.6C1094.1,126.1 1091.4,124.8 1090.4,123.8C1089.4,122.8 1090.2,120.6 1089.0,119.7C1087.8,118.8 1084.2,118.1 1082.2,117.7C1080.2,117.3 1076.1,118.2 1074.7,117.0C1073.3,115.8 1073.0,111.7 1072.6,109.5C1072.2,107.3 1071.4,103.8 1071.9,101.9C1072.4,100.0 1075.7,97.8 1076.0,96.4C1076.3,95.0 1074.7,93.7 1074.0,92.3C1073.3,90.9 1071.6,87.6 1071.2,86.8C1070.8,86.0 1070.4,87.6 1071.2,86.8Z"/><path d="M1044.5,95.1C1045.7,94.1 1052.2,93.3 1054.8,92.3C1057.4,91.3 1060.7,89.0 1063.0,88.2C1065.3,87.4 1069.6,86.2 1071.2,86.8C1072.8,87.4 1073.3,90.9 1074.0,92.3C1074.7,93.7 1076.3,95.0 1076.0,96.4C1075.7,97.8 1072.4,100.0 1071.9,101.9C1071.4,103.8 1072.2,107.3 1072.6,109.5C1073.0,111.7 1073.3,115.8 1074.7,117.0C1076.1,118.2 1080.2,117.3 1082.2,117.7C1084.2,118.1 1087.8,118.8 1089.0,119.7C1090.2,120.6 1091.0,122.7 1090.4,123.8C1089.8,124.9 1086.3,126.1 1084.9,127.3C1083.5,128.5 1081.7,130.4 1080.8,132.1C1079.9,133.8 1080.0,137.5 1078.8,138.9C1077.6,140.3 1074.3,141.6 1072.6,141.6C1070.9,141.6 1068.7,139.5 1067.1,138.9C1065.5,138.3 1063.4,137.3 1061.6,137.5C1059.8,137.7 1056.4,140.3 1054.8,140.3C1053.2,140.3 1051.5,138.4 1050.7,137.5C1049.9,136.6 1051.1,134.9 1049.3,134.1C1047.5,133.3 1040.2,133.4 1038.4,132.1C1036.6,130.8 1037.1,126.9 1037.0,125.2C1036.9,123.5 1038.3,121.5 1037.7,120.4C1037.1,119.3 1032.4,118.9 1032.9,117.7C1033.4,116.5 1040.1,113.9 1041.1,112.2C1042.1,110.5 1039.3,107.5 1039.7,106.0C1040.1,104.5 1042.8,102.9 1043.8,101.9C1044.8,100.9 1046.5,100.2 1046.6,99.2C1046.7,98.2 1043.3,96.1 1044.5,95.1Z"/><path d="M976.5,103.3C975.9,102.3 976.7,101.0 977.9,100.5C979.1,100.0 982.3,99.9 984.8,99.9C987.3,99.9 993.4,100.2 995.7,100.5C998.0,100.8 999.8,102.3 1001.2,101.9C1002.6,101.5 1004.3,98.0 1005.3,97.8C1006.3,97.6 1006.8,99.5 1008.2,100.5C1009.6,101.5 1013.1,104.3 1015.1,104.7C1017.1,105.1 1019.9,103.1 1021.9,103.3C1023.9,103.5 1026.3,105.6 1028.8,106.0C1031.3,106.4 1037.9,105.1 1039.7,106.0C1041.5,106.9 1042.1,110.5 1041.1,112.2C1040.1,113.9 1033.4,116.5 1032.9,117.7C1032.4,118.9 1037.1,119.3 1037.7,120.4C1038.3,121.5 1036.9,123.5 1037.0,125.2C1037.1,126.9 1036.6,130.8 1038.4,132.1C1040.2,133.4 1047.5,133.3 1049.3,134.1C1051.1,134.9 1049.9,136.6 1050.7,137.5C1051.5,138.4 1054.4,139.1 1054.8,140.3C1055.2,141.5 1054.2,144.4 1053.4,145.8C1052.6,147.2 1050.9,148.7 1049.3,149.9C1047.7,151.1 1043.9,153.0 1042.5,154.0C1041.1,155.0 1041.3,156.4 1039.7,156.7C1038.1,157.0 1033.5,156.6 1031.5,156.0C1029.5,155.4 1028.2,153.7 1026.0,152.6C1023.8,151.5 1018.9,148.7 1016.4,148.5C1013.9,148.3 1010.8,150.6 1008.2,151.2C1005.6,151.8 1000.3,151.8 998.5,152.6C996.7,153.4 996.7,156.2 995.7,156.7C994.7,157.2 993.2,156.4 991.6,156.0C990.0,155.6 987.0,154.4 984.8,154.0C982.6,153.6 977.9,154.1 976.5,153.3C975.1,152.5 975.8,150.0 975.2,148.5C974.6,147.0 972.8,144.6 972.4,143.0C972.0,141.4 972.9,138.9 972.4,137.5C971.9,136.1 969.2,135.0 969.0,133.4C968.8,131.8 970.0,128.2 971.1,126.6C972.2,125.0 974.7,123.5 976.5,122.5C978.3,121.5 982.2,120.9 983.4,119.7C984.6,118.5 985.0,116.0 984.8,114.2C984.6,112.4 983.2,109.0 982.0,107.4C980.8,105.8 977.1,104.3 976.5,103.3Z"/><path d="M1090.4,123.8C1092.0,123.7 1094.1,126.1 1095.9,126.6C1097.7,127.1 1101.9,126.5 1102.7,127.3C1103.5,128.1 1102.4,130.4 1101.4,132.1C1100.4,133.8 1097.7,137.1 1095.9,138.9C1094.1,140.7 1091.0,143.0 1089.0,144.4C1087.0,145.8 1084.5,147.3 1082.2,148.5C1079.9,149.7 1075.5,151.7 1072.6,152.6C1069.7,153.5 1064.5,154.1 1061.6,154.7C1058.7,155.3 1054.2,156.1 1052.1,156.7C1050.0,157.3 1047.8,158.2 1046.6,158.8C1045.4,159.4 1044.8,161.1 1043.8,160.8C1042.8,160.5 1039.9,157.7 1039.7,156.7C1039.5,155.7 1041.1,155.0 1042.5,154.0C1043.9,153.0 1047.7,151.1 1049.3,149.9C1050.9,148.7 1052.6,147.2 1053.4,145.8C1054.2,144.4 1053.6,141.5 1054.8,140.3C1056.0,139.1 1059.8,137.7 1061.6,137.5C1063.4,137.3 1065.5,138.3 1067.1,138.9C1068.7,139.5 1070.9,141.6 1072.6,141.6C1074.3,141.6 1077.6,140.3 1078.8,138.9C1080.0,137.5 1079.9,133.8 1080.8,132.1C1081.7,130.4 1083.5,128.5 1084.9,127.3C1086.3,126.1 1088.8,123.9 1090.4,123.8Z"/><path d="M1109.6,134.1C1110.7,134.3 1113.3,136.0 1113.7,137.5C1114.1,139.0 1113.0,142.4 1112.3,144.4C1111.6,146.4 1109.9,150.6 1108.9,151.2C1107.9,151.8 1106.2,149.9 1105.5,148.5C1104.8,147.1 1104.0,143.4 1104.1,141.6C1104.2,139.8 1105.4,137.3 1106.2,136.2C1107.0,135.1 1108.5,133.9 1109.6,134.1Z"/><path d="M1034.9,163.6C1035.8,162.5 1039.3,161.6 1041.1,161.5C1042.9,161.4 1046.6,162.0 1047.3,162.9C1048.0,163.8 1047.0,166.6 1045.9,167.7C1044.8,168.8 1041.3,170.2 1039.7,170.4C1038.1,170.6 1035.6,170.0 1034.9,169.0C1034.2,168.0 1034.0,164.7 1034.9,163.6Z"/></g><g transform="translate(1.7,1.5)" fill="#777" stroke="#777" stroke-width="0.8"><path d="M864.2,53.8C864.6,52.6 864.9,51.1 866.3,50.4C867.7,49.7 870.8,49.2 873.8,48.8C876.8,48.4 884.0,47.9 887.5,47.7C891.0,47.5 896.2,48.0 898.5,47.3C900.8,46.6 902.8,44.6 903.9,42.9C905.0,41.2 905.0,36.6 906.0,35.3C907.0,34.0 909.0,33.9 910.8,33.6C912.6,33.3 916.9,33.7 918.3,33.0C919.7,32.3 919.5,29.4 920.4,28.5C921.3,27.6 922.5,26.9 924.5,26.7C926.5,26.5 932.1,27.6 934.1,27.1C936.1,26.6 936.8,23.9 938.2,23.0C939.6,22.1 941.7,21.3 943.7,21.0C945.7,20.7 950.1,20.3 951.9,20.7C953.7,21.1 954.6,22.0 956.0,23.7C957.4,25.4 960.2,30.2 961.5,32.6C962.8,35.0 963.5,39.1 964.9,40.8C966.3,42.5 969.4,42.7 971.1,44.2C972.8,45.7 975.3,49.6 976.5,51.1C977.7,52.6 977.9,53.9 979.3,54.5C980.7,55.1 984.0,55.2 986.6,55.3C989.2,55.4 994.8,54.9 997.5,55.3C1000.2,55.7 1003.4,57.4 1005.8,58.1C1008.2,58.8 1011.3,60.1 1014.0,60.1C1016.7,60.1 1021.4,58.9 1024.9,58.1C1028.4,57.3 1035.5,55.8 1038.6,54.7C1041.7,53.6 1044.3,51.8 1046.8,50.5C1049.3,49.2 1053.5,47.1 1056.4,45.8C1059.3,44.5 1064.5,42.6 1067.4,41.6C1070.3,40.6 1074.8,39.7 1077.0,38.9C1079.2,38.1 1082.1,36.7 1082.5,36.2C1082.9,35.7 1081.6,35.2 1080.0,35.3C1078.4,35.4 1073.5,37.0 1071.5,36.8C1069.5,36.6 1066.3,35.1 1066.2,33.6C1066.1,32.1 1068.9,27.5 1071.0,26.0C1073.1,24.5 1078.9,25.1 1080.6,23.3C1082.3,21.5 1082.1,16.0 1082.7,13.7C1083.3,11.4 1083.8,8.4 1084.7,7.5C1085.6,6.6 1088.0,7.4 1088.8,7.5C1089.6,7.6 1089.2,7.4 1090.2,8.2C1091.2,9.0 1094.1,12.0 1095.7,13.0C1097.3,14.0 1099.6,14.6 1101.2,15.1C1102.8,15.6 1105.7,15.1 1106.6,16.4C1107.5,17.7 1107.9,22.1 1107.3,24.0C1106.7,25.9 1103.8,28.0 1102.5,29.5C1101.2,31.0 1098.6,32.8 1098.4,34.2C1098.2,35.6 1101.2,37.6 1101.2,39.0C1101.2,40.4 1098.2,42.3 1098.4,43.8C1098.6,45.3 1101.3,47.9 1102.5,49.3C1103.7,50.7 1106.8,52.6 1106.6,53.4C1106.4,54.2 1103.0,54.0 1101.2,54.8C1099.4,55.6 1096.1,58.1 1094.3,58.9C1092.5,59.7 1090.0,59.1 1088.8,60.3C1087.6,61.5 1087.1,66.5 1086.1,67.1C1085.1,67.7 1082.8,65.4 1082.0,64.4C1081.2,63.4 1081.6,61.2 1080.6,60.3C1079.6,59.4 1076.9,57.8 1075.1,58.2C1073.3,58.6 1070.1,62.4 1068.3,63.0C1066.5,63.6 1064.3,62.2 1062.8,62.3C1061.3,62.4 1059.4,62.4 1058.0,63.7C1056.6,65.0 1054.7,69.3 1053.2,71.2C1051.7,73.1 1048.9,74.7 1047.7,76.7C1046.5,78.7 1045.5,82.3 1045.0,84.9C1044.5,87.5 1044.3,93.1 1044.5,95.1C1044.7,97.1 1046.7,98.2 1046.6,99.2C1046.5,100.2 1044.8,100.9 1043.8,101.9C1042.8,102.9 1041.8,105.4 1039.7,106.0C1037.6,106.6 1031.3,106.4 1028.8,106.0C1026.3,105.6 1023.9,103.5 1021.9,103.3C1019.9,103.1 1017.1,105.1 1015.1,104.7C1013.1,104.3 1009.6,101.5 1008.2,100.5C1006.8,99.5 1006.3,97.6 1005.3,97.8C1004.3,98.0 1002.6,101.5 1001.2,101.9C999.8,102.3 998.0,100.8 995.7,100.5C993.4,100.2 987.3,99.9 984.8,99.9C982.3,99.9 979.1,100.0 977.9,100.5C976.7,101.0 978.3,102.8 976.5,103.3C974.7,103.8 968.3,104.4 965.6,104.0C962.9,103.6 959.7,101.3 957.4,100.5C955.1,99.7 951.6,99.1 949.2,98.5C946.8,97.9 942.6,97.7 940.9,96.4C939.2,95.1 937.7,91.6 937.5,89.6C937.3,87.6 939.3,83.8 939.6,82.7C939.9,81.6 941.0,82.3 939.6,81.9C938.2,81.5 933.3,80.1 930.0,79.9C926.7,79.7 920.2,80.6 916.3,80.5C912.4,80.4 906.5,79.6 902.6,79.2C898.7,78.8 891.9,77.1 888.9,77.4C885.9,77.7 882.7,81.2 881.3,81.2C879.9,81.2 880.8,78.5 879.3,77.1C877.8,75.7 873.1,73.5 871.0,71.6C868.9,69.7 866.0,66.0 864.9,64.1C863.8,62.2 863.6,60.0 863.5,58.5C863.4,57.0 863.8,55.0 864.2,53.8Z"/><path d="M881.3,81.2C880.4,82.2 875.8,86.2 875.2,88.2C874.6,90.2 876.0,93.4 877.2,95.1C878.4,96.8 881.3,98.4 883.4,99.9C885.5,101.4 889.1,103.7 891.6,105.3C894.1,106.9 898.5,109.1 901.2,110.8C903.9,112.5 908.1,115.7 910.8,117.0C913.5,118.3 917.7,119.2 920.4,119.7C923.1,120.2 927.5,120.0 930.0,120.4C932.5,120.8 936.4,121.6 938.2,122.5C940.0,123.4 940.3,126.0 942.3,126.6C944.3,127.2 949.4,127.0 951.9,126.6C954.4,126.2 957.6,124.1 960.1,123.8C962.6,123.5 967.4,124.7 969.7,124.5C972.0,124.3 974.5,123.2 976.5,122.5C978.5,121.8 982.2,120.9 983.4,119.7C984.6,118.5 985.0,116.0 984.8,114.2C984.6,112.4 983.2,109.0 982.0,107.4C980.8,105.8 978.8,103.8 976.5,103.3C974.2,102.8 968.3,104.4 965.6,104.0C962.9,103.6 959.7,101.3 957.4,100.5C955.1,99.7 951.6,99.1 949.2,98.5C946.8,97.9 942.6,97.7 940.9,96.4C939.2,95.1 937.7,91.6 937.5,89.6C937.3,87.6 939.3,83.8 939.6,82.7C939.9,81.6 941.0,82.3 939.6,81.9C938.2,81.5 933.3,80.1 930.0,79.9C926.7,79.7 920.2,80.6 916.3,80.5C912.4,80.4 906.5,79.6 902.6,79.2C898.7,78.8 891.9,77.1 888.9,77.4C885.9,77.7 882.4,80.7 881.3,81.2C880.2,81.7 882.2,80.2 881.3,81.2Z"/><path d="M1088.8,7.5C1088.8,7.2 1089.2,6.7 1090.2,6.2C1091.2,5.7 1093.7,4.3 1095.7,4.1C1097.7,3.9 1101.9,4.2 1103.9,4.8C1105.9,5.4 1107.6,6.6 1109.4,8.2C1111.2,9.8 1114.1,14.2 1116.2,15.8C1118.3,17.4 1121.9,18.1 1124.4,19.2C1126.9,20.3 1131.8,22.3 1134.0,23.3C1136.2,24.3 1137.7,26.0 1139.5,26.0C1141.3,26.0 1144.6,23.6 1146.4,23.3C1148.2,23.0 1150.9,23.1 1151.8,24.0C1152.7,24.9 1152.7,27.8 1152.5,29.5C1152.3,31.2 1151.6,34.1 1150.5,35.6C1149.4,37.1 1146.0,38.1 1145.0,39.7C1144.0,41.3 1144.1,45.0 1143.6,46.6C1143.1,48.2 1142.8,49.6 1141.6,50.7C1140.4,51.8 1137.3,53.1 1135.4,54.1C1133.5,55.1 1130.7,56.3 1128.5,57.5C1126.3,58.7 1122.3,60.9 1120.3,62.3C1118.3,63.7 1116.8,66.0 1114.8,67.1C1112.8,68.2 1108.5,68.9 1106.6,69.9C1104.7,70.9 1102.3,73.7 1101.2,74.0C1100.1,74.3 1099.3,72.9 1099.1,71.9C1098.9,70.9 1100.3,67.6 1099.8,67.1C1099.3,66.6 1097.1,67.9 1095.7,68.5C1094.3,69.1 1091.6,71.4 1090.2,71.2C1088.8,71.0 1086.7,67.7 1086.1,67.1C1085.5,66.5 1085.7,68.1 1086.1,67.1C1086.5,66.1 1087.6,61.5 1088.8,60.3C1090.0,59.1 1092.5,59.7 1094.3,58.9C1096.1,58.1 1099.4,55.6 1101.2,54.8C1103.0,54.0 1106.4,54.2 1106.6,53.4C1106.8,52.6 1103.7,50.7 1102.5,49.3C1101.3,47.9 1098.6,45.3 1098.4,43.8C1098.2,42.3 1101.2,40.4 1101.2,39.0C1101.2,37.6 1098.2,35.6 1098.4,34.2C1098.6,32.8 1101.2,31.0 1102.5,29.5C1103.8,28.0 1106.7,25.9 1107.3,24.0C1107.9,22.1 1107.5,17.7 1106.6,16.4C1105.7,15.1 1102.8,15.6 1101.2,15.1C1099.6,14.6 1097.3,14.0 1095.7,13.0C1094.1,12.0 1091.2,9.0 1090.2,8.2C1089.2,7.4 1088.8,7.8 1088.8,7.5Z"/><path d="M1058.0,63.7C1059.4,62.4 1061.3,62.4 1062.8,62.3C1064.3,62.2 1066.5,63.6 1068.3,63.0C1070.1,62.4 1073.3,58.6 1075.1,58.2C1076.9,57.8 1079.6,59.4 1080.6,60.3C1081.6,61.2 1081.2,63.4 1082.0,64.4C1082.8,65.4 1084.9,66.1 1086.1,67.1C1087.3,68.1 1090.4,70.1 1090.2,71.2C1090.0,72.3 1085.5,73.8 1084.7,74.7C1083.9,75.6 1085.9,76.4 1084.7,77.4C1083.5,78.4 1078.4,80.2 1076.5,81.5C1074.6,82.8 1073.1,85.8 1071.2,86.8C1069.3,87.8 1065.3,87.4 1063.0,88.2C1060.7,89.0 1057.4,91.3 1054.8,92.3C1052.2,93.3 1045.9,96.2 1044.5,95.1C1043.1,94.0 1044.5,87.5 1045.0,84.9C1045.5,82.3 1046.5,78.7 1047.7,76.7C1048.9,74.7 1051.7,73.1 1053.2,71.2C1054.7,69.3 1056.6,65.0 1058.0,63.7Z"/><path d="M1071.2,86.8C1072.0,86.0 1074.6,82.8 1076.5,81.5C1078.4,80.2 1082.5,77.7 1084.7,77.4C1086.9,77.1 1089.8,79.5 1091.6,79.5C1093.4,79.5 1094.9,77.6 1097.0,77.4C1099.1,77.2 1104.8,77.5 1106.6,78.1C1108.4,78.7 1109.8,80.5 1109.6,81.4C1109.4,82.3 1107.1,83.3 1105.5,84.1C1103.9,84.9 1100.0,85.7 1098.6,86.8C1097.2,87.9 1095.5,90.4 1095.9,91.6C1096.3,92.8 1100.0,93.4 1101.4,95.1C1102.8,96.8 1104.5,101.2 1105.5,103.3C1106.5,105.4 1108.0,108.3 1108.2,109.5C1108.4,110.7 1106.4,110.6 1106.8,111.5C1107.2,112.4 1110.6,114.2 1111.0,115.6C1111.4,117.0 1110.4,119.9 1109.6,121.1C1108.8,122.3 1106.5,122.9 1105.5,123.8C1104.5,124.7 1104.1,126.9 1102.7,127.3C1101.3,127.7 1097.7,127.1 1095.9,126.6C1094.1,126.1 1091.4,124.8 1090.4,123.8C1089.4,122.8 1090.2,120.6 1089.0,119.7C1087.8,118.8 1084.2,118.1 1082.2,117.7C1080.2,117.3 1076.1,118.2 1074.7,117.0C1073.3,115.8 1073.0,111.7 1072.6,109.5C1072.2,107.3 1071.4,103.8 1071.9,101.9C1072.4,100.0 1075.7,97.8 1076.0,96.4C1076.3,95.0 1074.7,93.7 1074.0,92.3C1073.3,90.9 1071.6,87.6 1071.2,86.8C1070.8,86.0 1070.4,87.6 1071.2,86.8Z"/><path d="M1044.5,95.1C1045.7,94.1 1052.2,93.3 1054.8,92.3C1057.4,91.3 1060.7,89.0 1063.0,88.2C1065.3,87.4 1069.6,86.2 1071.2,86.8C1072.8,87.4 1073.3,90.9 1074.0,92.3C1074.7,93.7 1076.3,95.0 1076.0,96.4C1075.7,97.8 1072.4,100.0 1071.9,101.9C1071.4,103.8 1072.2,107.3 1072.6,109.5C1073.0,111.7 1073.3,115.8 1074.7,117.0C1076.1,118.2 1080.2,117.3 1082.2,117.7C1084.2,118.1 1087.8,118.8 1089.0,119.7C1090.2,120.6 1091.0,122.7 1090.4,123.8C1089.8,124.9 1086.3,126.1 1084.9,127.3C1083.5,128.5 1081.7,130.4 1080.8,132.1C1079.9,133.8 1080.0,137.5 1078.8,138.9C1077.6,140.3 1074.3,141.6 1072.6,141.6C1070.9,141.6 1068.7,139.5 1067.1,138.9C1065.5,138.3 1063.4,137.3 1061.6,137.5C1059.8,137.7 1056.4,140.3 1054.8,140.3C1053.2,140.3 1051.5,138.4 1050.7,137.5C1049.9,136.6 1051.1,134.9 1049.3,134.1C1047.5,133.3 1040.2,133.4 1038.4,132.1C1036.6,130.8 1037.1,126.9 1037.0,125.2C1036.9,123.5 1038.3,121.5 1037.7,120.4C1037.1,119.3 1032.4,118.9 1032.9,117.7C1033.4,116.5 1040.1,113.9 1041.1,112.2C1042.1,110.5 1039.3,107.5 1039.7,106.0C1040.1,104.5 1042.8,102.9 1043.8,101.9C1044.8,100.9 1046.5,100.2 1046.6,99.2C1046.7,98.2 1043.3,96.1 1044.5,95.1Z"/><path d="M976.5,103.3C975.9,102.3 976.7,101.0 977.9,100.5C979.1,100.0 982.3,99.9 984.8,99.9C987.3,99.9 993.4,100.2 995.7,100.5C998.0,100.8 999.8,102.3 1001.2,101.9C1002.6,101.5 1004.3,98.0 1005.3,97.8C1006.3,97.6 1006.8,99.5 1008.2,100.5C1009.6,101.5 1013.1,104.3 1015.1,104.7C1017.1,105.1 1019.9,103.1 1021.9,103.3C1023.9,103.5 1026.3,105.6 1028.8,106.0C1031.3,106.4 1037.9,105.1 1039.7,106.0C1041.5,106.9 1042.1,110.5 1041.1,112.2C1040.1,113.9 1033.4,116.5 1032.9,117.7C1032.4,118.9 1037.1,119.3 1037.7,120.4C1038.3,121.5 1036.9,123.5 1037.0,125.2C1037.1,126.9 1036.6,130.8 1038.4,132.1C1040.2,133.4 1047.5,133.3 1049.3,134.1C1051.1,134.9 1049.9,136.6 1050.7,137.5C1051.5,138.4 1054.4,139.1 1054.8,140.3C1055.2,141.5 1054.2,144.4 1053.4,145.8C1052.6,147.2 1050.9,148.7 1049.3,149.9C1047.7,151.1 1043.9,153.0 1042.5,154.0C1041.1,155.0 1041.3,156.4 1039.7,156.7C1038.1,157.0 1033.5,156.6 1031.5,156.0C1029.5,155.4 1028.2,153.7 1026.0,152.6C1023.8,151.5 1018.9,148.7 1016.4,148.5C1013.9,148.3 1010.8,150.6 1008.2,151.2C1005.6,151.8 1000.3,151.8 998.5,152.6C996.7,153.4 996.7,156.2 995.7,156.7C994.7,157.2 993.2,156.4 991.6,156.0C990.0,155.6 987.0,154.4 984.8,154.0C982.6,153.6 977.9,154.1 976.5,153.3C975.1,152.5 975.8,150.0 975.2,148.5C974.6,147.0 972.8,144.6 972.4,143.0C972.0,141.4 972.9,138.9 972.4,137.5C971.9,136.1 969.2,135.0 969.0,133.4C968.8,131.8 970.0,128.2 971.1,126.6C972.2,125.0 974.7,123.5 976.5,122.5C978.3,121.5 982.2,120.9 983.4,119.7C984.6,118.5 985.0,116.0 984.8,114.2C984.6,112.4 983.2,109.0 982.0,107.4C980.8,105.8 977.1,104.3 976.5,103.3Z"/><path d="M1090.4,123.8C1092.0,123.7 1094.1,126.1 1095.9,126.6C1097.7,127.1 1101.9,126.5 1102.7,127.3C1103.5,128.1 1102.4,130.4 1101.4,132.1C1100.4,133.8 1097.7,137.1 1095.9,138.9C1094.1,140.7 1091.0,143.0 1089.0,144.4C1087.0,145.8 1084.5,147.3 1082.2,148.5C1079.9,149.7 1075.5,151.7 1072.6,152.6C1069.7,153.5 1064.5,154.1 1061.6,154.7C1058.7,155.3 1054.2,156.1 1052.1,156.7C1050.0,157.3 1047.8,158.2 1046.6,158.8C1045.4,159.4 1044.8,161.1 1043.8,160.8C1042.8,160.5 1039.9,157.7 1039.7,156.7C1039.5,155.7 1041.1,155.0 1042.5,154.0C1043.9,153.0 1047.7,151.1 1049.3,149.9C1050.9,148.7 1052.6,147.2 1053.4,145.8C1054.2,144.4 1053.6,141.5 1054.8,140.3C1056.0,139.1 1059.8,137.7 1061.6,137.5C1063.4,137.3 1065.5,138.3 1067.1,138.9C1068.7,139.5 1070.9,141.6 1072.6,141.6C1074.3,141.6 1077.6,140.3 1078.8,138.9C1080.0,137.5 1079.9,133.8 1080.8,132.1C1081.7,130.4 1083.5,128.5 1084.9,127.3C1086.3,126.1 1088.8,123.9 1090.4,123.8Z"/><path d="M1109.6,134.1C1110.7,134.3 1113.3,136.0 1113.7,137.5C1114.1,139.0 1113.0,142.4 1112.3,144.4C1111.6,146.4 1109.9,150.6 1108.9,151.2C1107.9,151.8 1106.2,149.9 1105.5,148.5C1104.8,147.1 1104.0,143.4 1104.1,141.6C1104.2,139.8 1105.4,137.3 1106.2,136.2C1107.0,135.1 1108.5,133.9 1109.6,134.1Z"/><path d="M1034.9,163.6C1035.8,162.5 1039.3,161.6 1041.1,161.5C1042.9,161.4 1046.6,162.0 1047.3,162.9C1048.0,163.8 1047.0,166.6 1045.9,167.7C1044.8,168.8 1041.3,170.2 1039.7,170.4C1038.1,170.6 1035.6,170.0 1034.9,169.0C1034.2,168.0 1034.0,164.7 1034.9,163.6Z"/></g><g stroke-linejoin="round"><path d="M864.2,53.8C864.6,52.6 864.9,51.1 866.3,50.4C867.7,49.7 870.8,49.2 873.8,48.8C876.8,48.4 884.0,47.9 887.5,47.7C891.0,47.5 896.2,48.0 898.5,47.3C900.8,46.6 902.8,44.6 903.9,42.9C905.0,41.2 905.0,36.6 906.0,35.3C907.0,34.0 909.0,33.9 910.8,33.6C912.6,33.3 916.9,33.7 918.3,33.0C919.7,32.3 919.5,29.4 920.4,28.5C921.3,27.6 922.5,26.9 924.5,26.7C926.5,26.5 932.1,27.6 934.1,27.1C936.1,26.6 936.8,23.9 938.2,23.0C939.6,22.1 941.7,21.3 943.7,21.0C945.7,20.7 950.1,20.3 951.9,20.7C953.7,21.1 954.6,22.0 956.0,23.7C957.4,25.4 960.2,30.2 961.5,32.6C962.8,35.0 963.5,39.1 964.9,40.8C966.3,42.5 969.4,42.7 971.1,44.2C972.8,45.7 975.3,49.6 976.5,51.1C977.7,52.6 977.9,53.9 979.3,54.5C980.7,55.1 984.0,55.2 986.6,55.3C989.2,55.4 994.8,54.9 997.5,55.3C1000.2,55.7 1003.4,57.4 1005.8,58.1C1008.2,58.8 1011.3,60.1 1014.0,60.1C1016.7,60.1 1021.4,58.9 1024.9,58.1C1028.4,57.3 1035.5,55.8 1038.6,54.7C1041.7,53.6 1044.3,51.8 1046.8,50.5C1049.3,49.2 1053.5,47.1 1056.4,45.8C1059.3,44.5 1064.5,42.6 1067.4,41.6C1070.3,40.6 1074.8,39.7 1077.0,38.9C1079.2,38.1 1082.1,36.7 1082.5,36.2C1082.9,35.7 1081.6,35.2 1080.0,35.3C1078.4,35.4 1073.5,37.0 1071.5,36.8C1069.5,36.6 1066.3,35.1 1066.2,33.6C1066.1,32.1 1068.9,27.5 1071.0,26.0C1073.1,24.5 1078.9,25.1 1080.6,23.3C1082.3,21.5 1082.1,16.0 1082.7,13.7C1083.3,11.4 1083.8,8.4 1084.7,7.5C1085.6,6.6 1088.0,7.4 1088.8,7.5C1089.6,7.6 1089.2,7.4 1090.2,8.2C1091.2,9.0 1094.1,12.0 1095.7,13.0C1097.3,14.0 1099.6,14.6 1101.2,15.1C1102.8,15.6 1105.7,15.1 1106.6,16.4C1107.5,17.7 1107.9,22.1 1107.3,24.0C1106.7,25.9 1103.8,28.0 1102.5,29.5C1101.2,31.0 1098.6,32.8 1098.4,34.2C1098.2,35.6 1101.2,37.6 1101.2,39.0C1101.2,40.4 1098.2,42.3 1098.4,43.8C1098.6,45.3 1101.3,47.9 1102.5,49.3C1103.7,50.7 1106.8,52.6 1106.6,53.4C1106.4,54.2 1103.0,54.0 1101.2,54.8C1099.4,55.6 1096.1,58.1 1094.3,58.9C1092.5,59.7 1090.0,59.1 1088.8,60.3C1087.6,61.5 1087.1,66.5 1086.1,67.1C1085.1,67.7 1082.8,65.4 1082.0,64.4C1081.2,63.4 1081.6,61.2 1080.6,60.3C1079.6,59.4 1076.9,57.8 1075.1,58.2C1073.3,58.6 1070.1,62.4 1068.3,63.0C1066.5,63.6 1064.3,62.2 1062.8,62.3C1061.3,62.4 1059.4,62.4 1058.0,63.7C1056.6,65.0 1054.7,69.3 1053.2,71.2C1051.7,73.1 1048.9,74.7 1047.7,76.7C1046.5,78.7 1045.5,82.3 1045.0,84.9C1044.5,87.5 1044.3,93.1 1044.5,95.1C1044.7,97.1 1046.7,98.2 1046.6,99.2C1046.5,100.2 1044.8,100.9 1043.8,101.9C1042.8,102.9 1041.8,105.4 1039.7,106.0C1037.6,106.6 1031.3,106.4 1028.8,106.0C1026.3,105.6 1023.9,103.5 1021.9,103.3C1019.9,103.1 1017.1,105.1 1015.1,104.7C1013.1,104.3 1009.6,101.5 1008.2,100.5C1006.8,99.5 1006.3,97.6 1005.3,97.8C1004.3,98.0 1002.6,101.5 1001.2,101.9C999.8,102.3 998.0,100.8 995.7,100.5C993.4,100.2 987.3,99.9 984.8,99.9C982.3,99.9 979.1,100.0 977.9,100.5C976.7,101.0 978.3,102.8 976.5,103.3C974.7,103.8 968.3,104.4 965.6,104.0C962.9,103.6 959.7,101.3 957.4,100.5C955.1,99.7 951.6,99.1 949.2,98.5C946.8,97.9 942.6,97.7 940.9,96.4C939.2,95.1 937.7,91.6 937.5,89.6C937.3,87.6 939.3,83.8 939.6,82.7C939.9,81.6 941.0,82.3 939.6,81.9C938.2,81.5 933.3,80.1 930.0,79.9C926.7,79.7 920.2,80.6 916.3,80.5C912.4,80.4 906.5,79.6 902.6,79.2C898.7,78.8 891.9,77.1 888.9,77.4C885.9,77.7 882.7,81.2 881.3,81.2C879.9,81.2 880.8,78.5 879.3,77.1C877.8,75.7 873.1,73.5 871.0,71.6C868.9,69.7 866.0,66.0 864.9,64.1C863.8,62.2 863.6,60.0 863.5,58.5C863.4,57.0 863.8,55.0 864.2,53.8Z" fill="#bfe4ff" stroke="#bfe4ff" stroke-width="0.7"/><path d="M881.3,81.2C880.4,82.2 875.8,86.2 875.2,88.2C874.6,90.2 876.0,93.4 877.2,95.1C878.4,96.8 881.3,98.4 883.4,99.9C885.5,101.4 889.1,103.7 891.6,105.3C894.1,106.9 898.5,109.1 901.2,110.8C903.9,112.5 908.1,115.7 910.8,117.0C913.5,118.3 917.7,119.2 920.4,119.7C923.1,120.2 927.5,120.0 930.0,120.4C932.5,120.8 936.4,121.6 938.2,122.5C940.0,123.4 940.3,126.0 942.3,126.6C944.3,127.2 949.4,127.0 951.9,126.6C954.4,126.2 957.6,124.1 960.1,123.8C962.6,123.5 967.4,124.7 969.7,124.5C972.0,124.3 974.5,123.2 976.5,122.5C978.5,121.8 982.2,120.9 983.4,119.7C984.6,118.5 985.0,116.0 984.8,114.2C984.6,112.4 983.2,109.0 982.0,107.4C980.8,105.8 978.8,103.8 976.5,103.3C974.2,102.8 968.3,104.4 965.6,104.0C962.9,103.6 959.7,101.3 957.4,100.5C955.1,99.7 951.6,99.1 949.2,98.5C946.8,97.9 942.6,97.7 940.9,96.4C939.2,95.1 937.7,91.6 937.5,89.6C937.3,87.6 939.3,83.8 939.6,82.7C939.9,81.6 941.0,82.3 939.6,81.9C938.2,81.5 933.3,80.1 930.0,79.9C926.7,79.7 920.2,80.6 916.3,80.5C912.4,80.4 906.5,79.6 902.6,79.2C898.7,78.8 891.9,77.1 888.9,77.4C885.9,77.7 882.4,80.7 881.3,81.2C880.2,81.7 882.2,80.2 881.3,81.2Z" fill="#e0e0e0" stroke="#e0e0e0" stroke-width="0.7"/><path d="M1088.8,7.5C1088.8,7.2 1089.2,6.7 1090.2,6.2C1091.2,5.7 1093.7,4.3 1095.7,4.1C1097.7,3.9 1101.9,4.2 1103.9,4.8C1105.9,5.4 1107.6,6.6 1109.4,8.2C1111.2,9.8 1114.1,14.2 1116.2,15.8C1118.3,17.4 1121.9,18.1 1124.4,19.2C1126.9,20.3 1131.8,22.3 1134.0,23.3C1136.2,24.3 1137.7,26.0 1139.5,26.0C1141.3,26.0 1144.6,23.6 1146.4,23.3C1148.2,23.0 1150.9,23.1 1151.8,24.0C1152.7,24.9 1152.7,27.8 1152.5,29.5C1152.3,31.2 1151.6,34.1 1150.5,35.6C1149.4,37.1 1146.0,38.1 1145.0,39.7C1144.0,41.3 1144.1,45.0 1143.6,46.6C1143.1,48.2 1142.8,49.6 1141.6,50.7C1140.4,51.8 1137.3,53.1 1135.4,54.1C1133.5,55.1 1130.7,56.3 1128.5,57.5C1126.3,58.7 1122.3,60.9 1120.3,62.3C1118.3,63.7 1116.8,66.0 1114.8,67.1C1112.8,68.2 1108.5,68.9 1106.6,69.9C1104.7,70.9 1102.3,73.7 1101.2,74.0C1100.1,74.3 1099.3,72.9 1099.1,71.9C1098.9,70.9 1100.3,67.6 1099.8,67.1C1099.3,66.6 1097.1,67.9 1095.7,68.5C1094.3,69.1 1091.6,71.4 1090.2,71.2C1088.8,71.0 1086.7,67.7 1086.1,67.1C1085.5,66.5 1085.7,68.1 1086.1,67.1C1086.5,66.1 1087.6,61.5 1088.8,60.3C1090.0,59.1 1092.5,59.7 1094.3,58.9C1096.1,58.1 1099.4,55.6 1101.2,54.8C1103.0,54.0 1106.4,54.2 1106.6,53.4C1106.8,52.6 1103.7,50.7 1102.5,49.3C1101.3,47.9 1098.6,45.3 1098.4,43.8C1098.2,42.3 1101.2,40.4 1101.2,39.0C1101.2,37.6 1098.2,35.6 1098.4,34.2C1098.6,32.8 1101.2,31.0 1102.5,29.5C1103.8,28.0 1106.7,25.9 1107.3,24.0C1107.9,22.1 1107.5,17.7 1106.6,16.4C1105.7,15.1 1102.8,15.6 1101.2,15.1C1099.6,14.6 1097.3,14.0 1095.7,13.0C1094.1,12.0 1091.2,9.0 1090.2,8.2C1089.2,7.4 1088.8,7.8 1088.8,7.5Z" fill="#b9e3c6" stroke="#b9e3c6" stroke-width="0.7"/><path d="M1058.0,63.7C1059.4,62.4 1061.3,62.4 1062.8,62.3C1064.3,62.2 1066.5,63.6 1068.3,63.0C1070.1,62.4 1073.3,58.6 1075.1,58.2C1076.9,57.8 1079.6,59.4 1080.6,60.3C1081.6,61.2 1081.2,63.4 1082.0,64.4C1082.8,65.4 1084.9,66.1 1086.1,67.1C1087.3,68.1 1090.4,70.1 1090.2,71.2C1090.0,72.3 1085.5,73.8 1084.7,74.7C1083.9,75.6 1085.9,76.4 1084.7,77.4C1083.5,78.4 1078.4,80.2 1076.5,81.5C1074.6,82.8 1073.1,85.8 1071.2,86.8C1069.3,87.8 1065.3,87.4 1063.0,88.2C1060.7,89.0 1057.4,91.3 1054.8,92.3C1052.2,93.3 1045.9,96.2 1044.5,95.1C1043.1,94.0 1044.5,87.5 1045.0,84.9C1045.5,82.3 1046.5,78.7 1047.7,76.7C1048.9,74.7 1051.7,73.1 1053.2,71.2C1054.7,69.3 1056.6,65.0 1058.0,63.7Z" fill="#f9b4db" stroke="#f9b4db" stroke-width="0.7"/><path d="M1071.2,86.8C1072.0,86.0 1074.6,82.8 1076.5,81.5C1078.4,80.2 1082.5,77.7 1084.7,77.4C1086.9,77.1 1089.8,79.5 1091.6,79.5C1093.4,79.5 1094.9,77.6 1097.0,77.4C1099.1,77.2 1104.8,77.5 1106.6,78.1C1108.4,78.7 1109.8,80.5 1109.6,81.4C1109.4,82.3 1107.1,83.3 1105.5,84.1C1103.9,84.9 1100.0,85.7 1098.6,86.8C1097.2,87.9 1095.5,90.4 1095.9,91.6C1096.3,92.8 1100.0,93.4 1101.4,95.1C1102.8,96.8 1104.5,101.2 1105.5,103.3C1106.5,105.4 1108.0,108.3 1108.2,109.5C1108.4,110.7 1106.4,110.6 1106.8,111.5C1107.2,112.4 1110.6,114.2 1111.0,115.6C1111.4,117.0 1110.4,119.9 1109.6,121.1C1108.8,122.3 1106.5,122.9 1105.5,123.8C1104.5,124.7 1104.1,126.9 1102.7,127.3C1101.3,127.7 1097.7,127.1 1095.9,126.6C1094.1,126.1 1091.4,124.8 1090.4,123.8C1089.4,122.8 1090.2,120.6 1089.0,119.7C1087.8,118.8 1084.2,118.1 1082.2,117.7C1080.2,117.3 1076.1,118.2 1074.7,117.0C1073.3,115.8 1073.0,111.7 1072.6,109.5C1072.2,107.3 1071.4,103.8 1071.9,101.9C1072.4,100.0 1075.7,97.8 1076.0,96.4C1076.3,95.0 1074.7,93.7 1074.0,92.3C1073.3,90.9 1071.6,87.6 1071.2,86.8C1070.8,86.0 1070.4,87.6 1071.2,86.8Z" fill="#fac376" stroke="#fac376" stroke-width="0.7"/><path d="M1044.5,95.1C1045.7,94.1 1052.2,93.3 1054.8,92.3C1057.4,91.3 1060.7,89.0 1063.0,88.2C1065.3,87.4 1069.6,86.2 1071.2,86.8C1072.8,87.4 1073.3,90.9 1074.0,92.3C1074.7,93.7 1076.3,95.0 1076.0,96.4C1075.7,97.8 1072.4,100.0 1071.9,101.9C1071.4,103.8 1072.2,107.3 1072.6,109.5C1073.0,111.7 1073.3,115.8 1074.7,117.0C1076.1,118.2 1080.2,117.3 1082.2,117.7C1084.2,118.1 1087.8,118.8 1089.0,119.7C1090.2,120.6 1091.0,122.7 1090.4,123.8C1089.8,124.9 1086.3,126.1 1084.9,127.3C1083.5,128.5 1081.7,130.4 1080.8,132.1C1079.9,133.8 1080.0,137.5 1078.8,138.9C1077.6,140.3 1074.3,141.6 1072.6,141.6C1070.9,141.6 1068.7,139.5 1067.1,138.9C1065.5,138.3 1063.4,137.3 1061.6,137.5C1059.8,137.7 1056.4,140.3 1054.8,140.3C1053.2,140.3 1051.5,138.4 1050.7,137.5C1049.9,136.6 1051.1,134.9 1049.3,134.1C1047.5,133.3 1040.2,133.4 1038.4,132.1C1036.6,130.8 1037.1,126.9 1037.0,125.2C1036.9,123.5 1038.3,121.5 1037.7,120.4C1037.1,119.3 1032.4,118.9 1032.9,117.7C1033.4,116.5 1040.1,113.9 1041.1,112.2C1042.1,110.5 1039.3,107.5 1039.7,106.0C1040.1,104.5 1042.8,102.9 1043.8,101.9C1044.8,100.9 1046.5,100.2 1046.6,99.2C1046.7,98.2 1043.3,96.1 1044.5,95.1Z" fill="#cdee86" stroke="#cdee86" stroke-width="0.7"/><path d="M976.5,103.3C975.9,102.3 976.7,101.0 977.9,100.5C979.1,100.0 982.3,99.9 984.8,99.9C987.3,99.9 993.4,100.2 995.7,100.5C998.0,100.8 999.8,102.3 1001.2,101.9C1002.6,101.5 1004.3,98.0 1005.3,97.8C1006.3,97.6 1006.8,99.5 1008.2,100.5C1009.6,101.5 1013.1,104.3 1015.1,104.7C1017.1,105.1 1019.9,103.1 1021.9,103.3C1023.9,103.5 1026.3,105.6 1028.8,106.0C1031.3,106.4 1037.9,105.1 1039.7,106.0C1041.5,106.9 1042.1,110.5 1041.1,112.2C1040.1,113.9 1033.4,116.5 1032.9,117.7C1032.4,118.9 1037.1,119.3 1037.7,120.4C1038.3,121.5 1036.9,123.5 1037.0,125.2C1037.1,126.9 1036.6,130.8 1038.4,132.1C1040.2,133.4 1047.5,133.3 1049.3,134.1C1051.1,134.9 1049.9,136.6 1050.7,137.5C1051.5,138.4 1054.4,139.1 1054.8,140.3C1055.2,141.5 1054.2,144.4 1053.4,145.8C1052.6,147.2 1050.9,148.7 1049.3,149.9C1047.7,151.1 1043.9,153.0 1042.5,154.0C1041.1,155.0 1041.3,156.4 1039.7,156.7C1038.1,157.0 1033.5,156.6 1031.5,156.0C1029.5,155.4 1028.2,153.7 1026.0,152.6C1023.8,151.5 1018.9,148.7 1016.4,148.5C1013.9,148.3 1010.8,150.6 1008.2,151.2C1005.6,151.8 1000.3,151.8 998.5,152.6C996.7,153.4 996.7,156.2 995.7,156.7C994.7,157.2 993.2,156.4 991.6,156.0C990.0,155.6 987.0,154.4 984.8,154.0C982.6,153.6 977.9,154.1 976.5,153.3C975.1,152.5 975.8,150.0 975.2,148.5C974.6,147.0 972.8,144.6 972.4,143.0C972.0,141.4 972.9,138.9 972.4,137.5C971.9,136.1 969.2,135.0 969.0,133.4C968.8,131.8 970.0,128.2 971.1,126.6C972.2,125.0 974.7,123.5 976.5,122.5C978.3,121.5 982.2,120.9 983.4,119.7C984.6,118.5 985.0,116.0 984.8,114.2C984.6,112.4 983.2,109.0 982.0,107.4C980.8,105.8 977.1,104.3 976.5,103.3Z" fill="#ffff80" stroke="#ffff80" stroke-width="0.7"/><path d="M1090.4,123.8C1092.0,123.7 1094.1,126.1 1095.9,126.6C1097.7,127.1 1101.9,126.5 1102.7,127.3C1103.5,128.1 1102.4,130.4 1101.4,132.1C1100.4,133.8 1097.7,137.1 1095.9,138.9C1094.1,140.7 1091.0,143.0 1089.0,144.4C1087.0,145.8 1084.5,147.3 1082.2,148.5C1079.9,149.7 1075.5,151.7 1072.6,152.6C1069.7,153.5 1064.5,154.1 1061.6,154.7C1058.7,155.3 1054.2,156.1 1052.1,156.7C1050.0,157.3 1047.8,158.2 1046.6,158.8C1045.4,159.4 1044.8,161.1 1043.8,160.8C1042.8,160.5 1039.9,157.7 1039.7,156.7C1039.5,155.7 1041.1,155.0 1042.5,154.0C1043.9,153.0 1047.7,151.1 1049.3,149.9C1050.9,148.7 1052.6,147.2 1053.4,145.8C1054.2,144.4 1053.6,141.5 1054.8,140.3C1056.0,139.1 1059.8,137.7 1061.6,137.5C1063.4,137.3 1065.5,138.3 1067.1,138.9C1068.7,139.5 1070.9,141.6 1072.6,141.6C1074.3,141.6 1077.6,140.3 1078.8,138.9C1080.0,137.5 1079.9,133.8 1080.8,132.1C1081.7,130.4 1083.5,128.5 1084.9,127.3C1086.3,126.1 1088.8,123.9 1090.4,123.8Z" fill="#f7a16e" stroke="#f7a16e" stroke-width="0.7"/><path d="M1109.6,134.1C1110.7,134.3 1113.3,136.0 1113.7,137.5C1114.1,139.0 1113.0,142.4 1112.3,144.4C1111.6,146.4 1109.9,150.6 1108.9,151.2C1107.9,151.8 1106.2,149.9 1105.5,148.5C1104.8,147.1 1104.0,143.4 1104.1,141.6C1104.2,139.8 1105.4,137.3 1106.2,136.2C1107.0,135.1 1108.5,133.9 1109.6,134.1Z" fill="#f7a16e" stroke="#f7a16e" stroke-width="0.7"/><path d="M1034.9,163.6C1035.8,162.5 1039.3,161.6 1041.1,161.5C1042.9,161.4 1046.6,162.0 1047.3,162.9C1048.0,163.8 1047.0,166.6 1045.9,167.7C1044.8,168.8 1041.3,170.2 1039.7,170.4C1038.1,170.6 1035.6,170.0 1034.9,169.0C1034.2,168.0 1034.0,164.7 1034.9,163.6Z" fill="#f7a16e" stroke="#f7a16e" stroke-width="0.7"/></g><g fill="none" stroke="#9aa4ad" stroke-width="0.5"><polyline points="979.3,54.5 976.0,59.0 969.0,61.0 967.0,67.0 972.0,70.0 985.0,72.0 996.0,74.0 1003.0,78.0 1010.0,80.0 1017.0,78.0 1016.0,83.0 1020.0,88.0 1027.0,88.0 1034.0,85.0 1037.0,90.0 1030.0,93.0 1024.0,94.0 1020.0,99.0 1015.1,104.7"/><polyline points="967.0,67.0 958.0,69.0 950.0,70.0 947.0,76.0 939.6,81.9"/><polyline points="986.6,55.3 984.0,60.0 989.0,65.0 996.0,66.0 998.0,73.0 1003.0,78.0"/><polyline points="1003.0,78.0 1005.0,84.0 1002.0,90.0 998.0,93.0 999.0,97.0 1005.3,97.8"/><polyline points="1017.0,78.0 1022.0,74.0 1027.0,76.0 1027.0,82.0 1034.0,85.0 1040.0,80.0 1047.7,76.7"/><polyline points="1037.0,90.0 1044.5,95.1"/><polyline points="1098.4,43.8 1110.0,46.0 1122.0,44.0 1133.0,47.0 1141.6,50.7"/><polyline points="1106.6,53.4 1112.0,58.0 1114.8,67.1"/><polyline points="1058.0,63.7 1063.0,70.0 1062.0,78.0 1063.0,88.2"/><polyline points="1076.0,96.4 1086.0,93.0 1095.9,91.6"/><polyline points="1086.0,93.0 1088.0,101.0 1093.0,108.0 1094.0,113.0 1089.0,119.7"/><polyline points="1093.0,108.0 1101.0,108.0 1108.2,109.5"/><polyline points="1043.8,101.9 1052.0,104.0 1062.0,106.0 1071.9,101.9"/><polyline points="1032.9,117.7 1042.0,119.0 1050.0,117.0 1060.0,119.0 1066.0,118.0 1074.7,117.0"/><polyline points="1064.0,119.0 1063.0,128.0 1066.0,134.0 1067.1,138.9"/><polyline points="984.8,114.2 992.0,118.0 998.0,127.0 1003.0,130.0 1010.0,124.0 1013.0,119.0 1018.0,121.0 1022.0,113.0 1028.8,106.0"/><polyline points="1022.0,113.0 1030.0,114.0 1032.9,117.7"/><polyline points="1013.0,119.0 1016.0,126.0 1024.0,124.0 1032.0,122.0 1037.7,120.4"/><polyline points="1016.0,126.0 1014.0,133.0 1010.0,138.0 1016.4,148.5"/><polyline points="1014.0,133.0 1022.0,139.0 1032.0,137.0 1040.0,134.0 1049.3,134.1"/><polyline points="1084.9,127.3 1090.4,123.8"/></g><g font-size="4.9" fill="#222" font-weight="500"><text x="914.4" y="54.3" textLength="11.6" lengthAdjust="spacingAndGlyphs">新疆</text><text x="921.2" y="107.4" textLength="11.6" lengthAdjust="spacingAndGlyphs">西藏</text><text x="968.9" y="89.7" textLength="11.6" lengthAdjust="spacingAndGlyphs">青海</text><text x="997.5" y="84.8" textLength="11.6" lengthAdjust="spacingAndGlyphs">甘肃</text><text x="1017.6" y="89.5" textLength="11.6" lengthAdjust="spacingAndGlyphs">宁夏</text><text x="1010.6" y="69.0" textLength="17.4" lengthAdjust="spacingAndGlyphs">内蒙古</text><text x="1028.8" y="99.3" textLength="11.6" lengthAdjust="spacingAndGlyphs">陕西</text><text x="1047.8" y="82.9" textLength="11.6" lengthAdjust="spacingAndGlyphs">山西</text><text x="1064.7" y="78.8" textLength="11.6" lengthAdjust="spacingAndGlyphs">河北</text><text x="1067.5" y="66.6" textLength="11.6" lengthAdjust="spacingAndGlyphs">北京</text><text x="1077.8" y="73.1" textLength="11.6" lengthAdjust="spacingAndGlyphs">天津</text><text x="1119.8" y="35.8" textLength="17.4" lengthAdjust="spacingAndGlyphs">黑龙江</text><text x="1113.7" y="52.7" textLength="11.6" lengthAdjust="spacingAndGlyphs">吉林</text><text x="1100.9" y="63.1" textLength="11.6" lengthAdjust="spacingAndGlyphs">辽宁</text><text x="1080.5" y="86.7" textLength="11.6" lengthAdjust="spacingAndGlyphs">山东</text><text x="1086.5" y="99.8" textLength="11.6" lengthAdjust="spacingAndGlyphs">江苏</text><text x="1094.1" y="108.0" textLength="11.6" lengthAdjust="spacingAndGlyphs">上海</text><text x="1077.5" y="114.0" textLength="11.6" lengthAdjust="spacingAndGlyphs">安徽</text><text x="1093.9" y="119.4" textLength="11.6" lengthAdjust="spacingAndGlyphs">浙江</text><text x="1055.2" y="99.8" textLength="11.6" lengthAdjust="spacingAndGlyphs">河南</text><text x="1049.8" y="115.3" textLength="11.6" lengthAdjust="spacingAndGlyphs">湖北</text><text x="1045.7" y="127.6" textLength="11.6" lengthAdjust="spacingAndGlyphs">湖南</text><text x="1069.6" y="127.0" textLength="11.6" lengthAdjust="spacingAndGlyphs">江西</text><text x="1083.8" y="135.8" textLength="11.6" lengthAdjust="spacingAndGlyphs">福建</text><text x="1002.1" y="113.4" textLength="11.6" lengthAdjust="spacingAndGlyphs">四川</text><text x="1019.0" y="118.9" textLength="11.6" lengthAdjust="spacingAndGlyphs">重庆</text><text x="1017.6" y="133.3" textLength="11.6" lengthAdjust="spacingAndGlyphs">贵州</text><text x="985.8" y="143.4" textLength="11.6" lengthAdjust="spacingAndGlyphs">云南</text><text x="1028.5" y="148.0" textLength="11.6" lengthAdjust="spacingAndGlyphs">广西</text><text x="1062.0" y="148.3" textLength="11.6" lengthAdjust="spacingAndGlyphs">广东</text><text x="1080.5" y="152.4" textLength="11.6" lengthAdjust="spacingAndGlyphs">香港</text><text x="1059.3" y="158.3" textLength="11.6" lengthAdjust="spacingAndGlyphs">澳门</text><text x="1098.2" y="145.3" textLength="11.6" lengthAdjust="spacingAndGlyphs">台湾</text><text x="1029.3" y="167.1" textLength="11.6" lengthAdjust="spacingAndGlyphs">海南</text></g></svg>
<svg width="1168" height="666" viewBox="0 0 1168 666"><path d="M1160.6,174 V374.2 H861" fill="none" stroke="#d9d9d9" stroke-width="1"/><path d="M1007.60,178.50 A143.3,96.2 0 0 1 1141.31,309.31 L1073.75,291.43 A70.9,46.5 0 0 0 1007.60,228.20 Z" fill="#4572a7" stroke="#4572a7" stroke-width="0.4"/><path d="M1141.31,309.31 A143.3,96.2 0 0 1 1025.57,370.14 L1016.49,320.83 A70.9,46.5 0 0 0 1073.75,291.43 Z" fill="#aa4643" stroke="#aa4643" stroke-width="0.4"/><path d="M1025.57,370.14 A143.3,96.2 0 0 1 927.60,354.51 L968.02,313.28 A70.9,46.5 0 0 0 1016.49,320.83 Z" fill="#89a54e" stroke="#89a54e" stroke-width="0.4"/><path d="M927.60,354.51 A143.3,96.2 0 0 1 879.05,232.19 L944.00,254.15 A70.9,46.5 0 0 0 968.02,313.28 Z" fill="#71588f" stroke="#71588f" stroke-width="0.4"/><path d="M879.05,232.19 A143.3,96.2 0 0 1 938.55,190.41 L973.44,233.95 A70.9,46.5 0 0 0 944.00,254.15 Z" fill="#4198af" stroke="#4198af" stroke-width="0.4"/><path d="M938.55,190.41 A143.3,96.2 0 0 1 1007.60,178.50 L1007.60,228.20 A70.9,46.5 0 0 0 973.44,233.95 Z" fill="#db843d" stroke="#db843d" stroke-width="0.4"/><text transform="translate(980.3,204.0) scale(1.49,1)" font-size="10.7" fill="#1a1a1a" text-anchor="middle" y="3.8">其他, 140040</text><text transform="translate(928.8,217.3) scale(1.49,1)" font-size="10.7" fill="#1a1a1a" text-anchor="middle" y="3.8">房建项目,</text><text transform="translate(929.3,232.1) scale(1.49,1)" font-size="10.7" fill="#1a1a1a" text-anchor="middle" y="3.8">170000</text><text transform="translate(1094.7,226.7) scale(1.49,1)" font-size="10.7" fill="#1a1a1a" text-anchor="middle" y="3.8">公路项目,</text><text transform="translate(1095.0,241.5) scale(1.49,1)" font-size="10.7" fill="#1a1a1a" text-anchor="middle" y="3.8">540000</text><text transform="translate(1073.4,323.5) scale(1.49,1)" font-size="10.7" fill="#1a1a1a" text-anchor="middle" y="3.8">铁路项目,</text><text transform="translate(1073.8,338.6) scale(1.49,1)" font-size="10.7" fill="#1a1a1a" text-anchor="middle" y="3.8">300000</text><text transform="translate(981.6,337.0) scale(1.49,1)" font-size="10.7" fill="#1a1a1a" text-anchor="middle" y="3.8">市政项目,</text><text transform="translate(982.0,352.2) scale(1.49,1)" font-size="10.7" fill="#1a1a1a" text-anchor="middle" y="3.8">200000</text><text transform="translate(903.6,285.7) scale(1.49,1)" font-size="10.7" fill="#1a1a1a" text-anchor="middle" y="3.8">城市轨道,</text><text transform="translate(903.6,300.2) scale(1.49,1)" font-size="10.7" fill="#1a1a1a" text-anchor="middle" y="3.8">400000</text></svg>
<svg width="1168" height="666" viewBox="0 0 1168 666"><path d="M1011.00,480.80 L1011.00,380.10 A138.7,100.7 0 0 1 1140.42,517.02 Z" fill="#4572a7" stroke="#4572a7" stroke-width="0.4"/><path d="M1011.00,480.80 L1140.42,517.02 A138.7,100.7 0 0 1 1028.39,580.71 Z" fill="#aa4643" stroke="#aa4643" stroke-width="0.4"/><path d="M1011.00,480.80 L1028.39,580.71 A138.7,100.7 0 0 1 933.56,564.35 Z" fill="#89a54e" stroke="#89a54e" stroke-width="0.4"/><path d="M1011.00,480.80 L933.56,564.35 A138.7,100.7 0 0 1 886.57,436.31 Z" fill="#71588f" stroke="#71588f" stroke-width="0.4"/><path d="M1011.00,480.80 L886.57,436.31 A138.7,100.7 0 0 1 944.16,392.56 Z" fill="#4198af" stroke="#4198af" stroke-width="0.4"/><path d="M1011.00,480.80 L944.16,392.56 A138.7,100.7 0 0 1 1011.00,380.10 Z" fill="#db843d" stroke="#db843d" stroke-width="0.4"/><text transform="translate(981.6,396.4) scale(1.377,1)" font-size="8" fill="#1a1a1a" text-anchor="middle" y="2.9">收尾工程,</text><text transform="translate(981.6,407.3) scale(1.377,1)" font-size="8" fill="#1a1a1a" text-anchor="middle" y="2.9">140040</text><text transform="translate(934.4,434.4) scale(1.377,1)" font-size="8" fill="#1a1a1a" text-anchor="middle" y="2.9">半停工, 170000</text><text transform="translate(1093.6,456.5) scale(1.377,1)" font-size="8" fill="#1a1a1a" text-anchor="middle" y="2.9">正常施工, 540000</text><text transform="translate(1079.0,529.2) scale(1.377,1)" font-size="8" fill="#1a1a1a" text-anchor="middle" y="2.9">主体完工, 300000</text><text transform="translate(983.3,563.2) scale(1.377,1)" font-size="8" fill="#1a1a1a" text-anchor="middle" y="2.9">交工, 200000</text><text transform="translate(909.6,496.2) scale(1.377,1)" font-size="8" fill="#1a1a1a" text-anchor="middle" y="2.9">进场未施工,</text><text transform="translate(909.4,506.7) scale(1.377,1)" font-size="8" fill="#1a1a1a" text-anchor="middle" y="2.9">400000</text></svg>
<div class="abs" style="left:866.3px;top:597px;font-size:11px;line-height:14px;white-space:nowrap">经营报表：</div><div class="abs" style="left:866.3px;top:619px;width:291.2px;height:60px;border:1px solid #dbe5f1;border-bottom:none;box-sizing:border-box;background:#fff"></div><div class="abs" style="left:867.3px;top:642px;width:290.2px;height:24px;background:#fdf5d9"></div><div class="abs" style="left:866.3px;top:641.5px;width:292.2px;height:1px;background:#dbe5f1"></div><div class="abs" style="left:894px;top:619px;width:1px;height:47px;background:#dbe5f1"></div><div class="abs" style="left:895px;top:623.5px;width:263px;text-align:center;font-weight:bold;font-size:11px;line-height:14px">文件名</div><div class="abs" style="left:870.4px;top:648px;font-size:11.5px;line-height:14px">1</div><div class="abs" style="left:897.6px;top:648px;font-size:11.3px;line-height:14px;color:#2e86c9;text-decoration:underline;white-space:nowrap">2016-2017年全球CIO调查报告.pdf</div>
<svg width="1168" height="666" viewBox="0 0 1168 666"><defs><radialGradient id="bag" cx="0.4" cy="0.35" r="0.75"><stop offset="0" stop-color="#efefef"/><stop offset="0.55" stop-color="#c6c6c6"/><stop offset="1" stop-color="#8c8c8c"/></radialGradient><linearGradient id="coin" x1="0" y1="0" x2="1" y2="0"><stop offset="0" stop-color="#ececec"/><stop offset="0.6" stop-color="#d6d6d6"/><stop offset="1" stop-color="#a8a8a8"/></linearGradient><linearGradient id="sack" x1="0" y1="0" x2="1" y2="1"><stop offset="0" stop-color="#eef0e8"/><stop offset="0.6" stop-color="#d5d8cc"/><stop offset="1" stop-color="#b4b8a8"/></linearGradient><filter id="ib" x="-10%" y="-10%" width="120%" height="120%"><feGaussianBlur stdDeviation="0.35"/></filter><filter id="wb" x="-10%" y="-10%" width="120%" height="120%"><feGaussianBlur stdDeviation="1.6"/></filter></defs><polygon points="94.7,97.9 123.0,91.4 140.4,97.9 157.9,91.4 175.3,87.0 190.5,76.1 197.1,82.6 213.3,91.4 213.3,139.3 197.0,134.9 179.6,124.0 153.5,121.9 123.0,128.4 103.4,121.9 94.7,113.1" fill="#7a3000" opacity="0.06" filter="url(#wb)"/><g filter="url(#ib)"><polygon points="27.2,77 30.4,77 30.4,108 29.1,117.9 20.2,125.3 37.6,125.4 40.6,133.9 52.1,126.2 45.7,120.2 26.4,76" fill="#fff"/><polygon points="25.2,76.2 31.6,71.2 56,111.6 46,121" fill="#8c8c8c"/><polygon points="28.4,78.5 32.0,75.1 52.6,109.4 45.6,117.8" fill="#fff"/><polyline points="28.4,78.5 34.3,78.9 32.2,87.2 38.9,86.5 36.0,95.9 43.5,94.2 39.9,104.7 48.1,101.8 43.7,113.4 52.6,109.4" fill="none" stroke="#8c8c8c" stroke-width="1.35"/><rect x="27.1" y="77.5" width="0.9" height="20.5" fill="#8c8c8c"/><rect x="29.4" y="77.5" width="0.9" height="20.5" fill="#8c8c8c"/><polygon points="25.4,97.8 31.3,97.8 30,108.2 27,108.2" fill="#8c8c8c"/><circle cx="28.5" cy="114.6" r="2.2" fill="none" stroke="#8c8c8c" stroke-width="1.5"/><rect x="27.8" y="108" width="1.4" height="4.5" fill="#8c8c8c"/><line x1="30" y1="116.5" x2="37" y2="124.6" stroke="#8c8c8c" stroke-width="0.8"/><rect x="18.9" y="126.9" width="18.6" height="2.5" fill="#8c8c8c"/><rect x="21.5" y="129.4" width="14" height="4.6" fill="#8c8c8c"/><rect x="18.3" y="133.9" width="19.8" height="2.4" fill="#8c8c8c"/><rect x="59.1" y="95" width="18.6" height="27" fill="#8c8c8c"/><polygon points="47,118 59.5,113 78,113 78,122 70,122 70,125 52,125 52,122" fill="#8c8c8c"/><rect x="63.7" y="100.8" width="8.8" height="8.2" fill="#f08a28"/><rect x="44.5" y="130.1" width="33.5" height="10.8" rx="4.2" ry="4.2" fill="#e07a22" stroke="#8c8c8c" stroke-width="4.2"/></g><rect x="222.2" y="86.8" width="84.8" height="60.5" fill="#a2c6ff"/><rect x="232.20" y="112.1" width="1.4" height="22.5" fill="#667fa9"/><rect x="236.48" y="113.8" width="1.4" height="20.8" fill="#667fa9"/><rect x="240.76" y="112.7" width="1.4" height="21.9" fill="#667fa9"/><rect x="245.04" y="107.0" width="1.4" height="27.6" fill="#667fa9"/><rect x="249.32" y="107.6" width="1.4" height="27.0" fill="#667fa9"/><rect x="253.60" y="107.6" width="1.4" height="27.0" fill="#667fa9"/><rect x="257.88" y="105.9" width="1.4" height="28.7" fill="#667fa9"/><rect x="262.16" y="103.6" width="1.4" height="31.0" fill="#667fa9"/><rect x="266.44" y="101.4" width="1.4" height="33.2" fill="#667fa9"/><rect x="270.72" y="98.6" width="1.4" height="36.0" fill="#667fa9"/><rect x="275.00" y="102.5" width="1.4" height="32.1" fill="#667fa9"/><rect x="279.28" y="103.6" width="1.4" height="31.0" fill="#667fa9"/><rect x="283.56" y="95.8" width="1.4" height="38.8" fill="#667fa9"/><rect x="287.84" y="107.0" width="1.4" height="27.6" fill="#667fa9"/><rect x="292.12" y="102.5" width="1.4" height="32.1" fill="#667fa9"/><rect x="296.40" y="100.8" width="1.4" height="33.8" fill="#667fa9"/><rect x="230.5" y="94" width="0.5" height="40.6" fill="#8aa8d8"/><rect x="299.5" y="94" width="0.5" height="40.6" fill="#8aa8d8"/><line x1="229.0" y1="144.5" x2="233.2" y2="138" stroke="#90aee0" stroke-width="0.7"/><line x1="233.3" y1="144.5" x2="237.5" y2="138" stroke="#90aee0" stroke-width="0.7"/><line x1="237.6" y1="144.5" x2="241.8" y2="138" stroke="#90aee0" stroke-width="0.7"/><line x1="241.8" y1="144.5" x2="246.0" y2="138" stroke="#90aee0" stroke-width="0.7"/><line x1="246.1" y1="144.5" x2="250.3" y2="138" stroke="#90aee0" stroke-width="0.7"/><line x1="250.4" y1="144.5" x2="254.6" y2="138" stroke="#90aee0" stroke-width="0.7"/><line x1="254.7" y1="144.5" x2="258.9" y2="138" stroke="#90aee0" stroke-width="0.7"/><line x1="259.0" y1="144.5" x2="263.2" y2="138" stroke="#90aee0" stroke-width="0.7"/><line x1="263.2" y1="144.5" x2="267.4" y2="138" stroke="#90aee0" stroke-width="0.7"/><line x1="267.5" y1="144.5" x2="271.7" y2="138" stroke="#90aee0" stroke-width="0.7"/><line x1="271.8" y1="144.5" x2="276.0" y2="138" stroke="#90aee0" stroke-width="0.7"/><line x1="276.1" y1="144.5" x2="280.3" y2="138" stroke="#90aee0" stroke-width="0.7"/><line x1="280.4" y1="144.5" x2="284.6" y2="138" stroke="#90aee0" stroke-width="0.7"/><line x1="284.6" y1="144.5" x2="288.8" y2="138" stroke="#90aee0" stroke-width="0.7"/><line x1="288.9" y1="144.5" x2="293.1" y2="138" stroke="#90aee0" stroke-width="0.7"/><line x1="293.2" y1="144.5" x2="297.4" y2="138" stroke="#90aee0" stroke-width="0.7"/><rect x="225.8" y="94.2" width="2.8" height="0.8" fill="#8cabdf"/><rect x="301.6" y="94.2" width="3.6" height="0.8" fill="#8cabdf"/><rect x="225.8" y="98.7" width="2.8" height="0.8" fill="#8cabdf"/><rect x="301.6" y="98.7" width="3.6" height="0.8" fill="#8cabdf"/><rect x="225.8" y="103.2" width="2.8" height="0.8" fill="#8cabdf"/><rect x="301.6" y="103.2" width="3.6" height="0.8" fill="#8cabdf"/><rect x="225.8" y="107.7" width="2.8" height="0.8" fill="#8cabdf"/><rect x="301.6" y="107.7" width="3.6" height="0.8" fill="#8cabdf"/><rect x="225.8" y="112.2" width="2.8" height="0.8" fill="#8cabdf"/><rect x="301.6" y="112.2" width="3.6" height="0.8" fill="#8cabdf"/><rect x="225.8" y="116.7" width="2.8" height="0.8" fill="#8cabdf"/><rect x="301.6" y="116.7" width="3.6" height="0.8" fill="#8cabdf"/><rect x="225.8" y="121.2" width="2.8" height="0.8" fill="#8cabdf"/><rect x="301.6" y="121.2" width="3.6" height="0.8" fill="#8cabdf"/><rect x="225.8" y="125.7" width="2.8" height="0.8" fill="#8cabdf"/><rect x="301.6" y="125.7" width="3.6" height="0.8" fill="#8cabdf"/><rect x="225.8" y="130.2" width="2.8" height="0.8" fill="#8cabdf"/><rect x="301.6" y="130.2" width="3.6" height="0.8" fill="#8cabdf"/><rect x="225.8" y="134.7" width="2.8" height="0.8" fill="#8cabdf"/><rect x="301.6" y="134.7" width="3.6" height="0.8" fill="#8cabdf"/><polyline points="232.9,129 237.2,128.5 241.5,126 245.7,124 250,123.5 254.3,125 258.6,122 262.9,121 267.1,119 271.4,114 275.7,110 280,106 284.2,104 288.5,112 292.8,115 297.1,118" fill="none" stroke="#93b0e6" stroke-width="0.6"/><rect x="239" y="89.6" width="14" height="1.4" fill="#8aa6d6"/><rect x="276" y="89.6" width="13" height="1.4" fill="#8aa6d6"/><g filter="url(#ib)"><path d="M455.5,82.2 Q461,79.5 467,79.2 Q471,84 472.6,90.5 L461.6,91.5 Q459,86 455.5,82.2 Z" fill="#f0f0f0" stroke="#c2c2c2" stroke-width="0.4"/><path d="M474.3,88 Q475,80 477.6,74.3 Q483,72.6 488.2,73.2 Q485,80 483.4,88.5 Z" fill="#f4f4f4" stroke="#c2c2c2" stroke-width="0.4"/><rect x="490.7" y="80.0" width="12.3" height="32.0" fill="url(#coin)"/><rect x="490.7" y="80.0" width="12.3" height="0.7" fill="#b4b4b4"/><rect x="490.7" y="82.4" width="12.3" height="0.7" fill="#b4b4b4"/><rect x="490.7" y="84.8" width="12.3" height="0.7" fill="#b4b4b4"/><rect x="490.7" y="87.2" width="12.3" height="0.7" fill="#b4b4b4"/><rect x="490.7" y="89.6" width="12.3" height="0.7" fill="#b4b4b4"/><rect x="490.7" y="92.0" width="12.3" height="0.7" fill="#b4b4b4"/><rect x="490.7" y="94.4" width="12.3" height="0.7" fill="#b4b4b4"/><rect x="490.7" y="96.8" width="12.3" height="0.7" fill="#b4b4b4"/><rect x="490.7" y="99.2" width="12.3" height="0.7" fill="#b4b4b4"/><rect x="490.7" y="101.6" width="12.3" height="0.7" fill="#b4b4b4"/><rect x="490.7" y="104.0" width="12.3" height="0.7" fill="#b4b4b4"/><rect x="490.7" y="106.4" width="12.3" height="0.7" fill="#b4b4b4"/><rect x="490.7" y="108.8" width="12.3" height="0.7" fill="#b4b4b4"/><rect x="490.7" y="111.2" width="12.3" height="0.7" fill="#b4b4b4"/><ellipse cx="496.8" cy="80.0" rx="6.2" ry="2.6" fill="#f4f4f4" stroke="#cfcfcf" stroke-width="0.4"/><rect x="502.8" y="91.0" width="11.6" height="25.0" fill="url(#coin)"/><rect x="502.8" y="91.0" width="11.6" height="0.7" fill="#b4b4b4"/><rect x="502.8" y="93.4" width="11.6" height="0.7" fill="#b4b4b4"/><rect x="502.8" y="95.8" width="11.6" height="0.7" fill="#b4b4b4"/><rect x="502.8" y="98.2" width="11.6" height="0.7" fill="#b4b4b4"/><rect x="502.8" y="100.6" width="11.6" height="0.7" fill="#b4b4b4"/><rect x="502.8" y="103.0" width="11.6" height="0.7" fill="#b4b4b4"/><rect x="502.8" y="105.4" width="11.6" height="0.7" fill="#b4b4b4"/><rect x="502.8" y="107.8" width="11.6" height="0.7" fill="#b4b4b4"/><rect x="502.8" y="110.2" width="11.6" height="0.7" fill="#b4b4b4"/><rect x="502.8" y="112.6" width="11.6" height="0.7" fill="#b4b4b4"/><rect x="502.8" y="115.0" width="11.6" height="0.7" fill="#b4b4b4"/><ellipse cx="508.6" cy="91.0" rx="5.8" ry="2.6" fill="#f4f4f4" stroke="#cfcfcf" stroke-width="0.4"/><path d="M458.9,100.6 Q451.5,107 449.4,116 Q447.8,126 452,133 Q456.5,139.2 466,139 Q476,139 480.8,134 Q484.2,129 484,119 Q483.6,108 480.5,100.8 Z" fill="url(#bag)"/><path d="M452.7,90 Q452,86.3 469.9,86.3 Q487,86.3 487.4,90 Q484.5,96 480.6,101.6 L458.8,101.6 Q455,96 452.7,90 Z" fill="#d6d6d6"/><ellipse cx="470" cy="89.8" rx="17.3" ry="3.9" fill="#ebebeb" stroke="#b9b9b9" stroke-width="0.5"/><ellipse cx="470" cy="90.6" rx="13.5" ry="2.5" fill="#c9c9c9"/><path d="M458.6,100.6 Q469,104 480.8,101" fill="none" stroke="#5a5a5a" stroke-width="1.5"/><path d="M480,101 Q487,106 486,116 Q485.6,119 484,120 M481.5,101 Q490,109 487.5,118" fill="none" stroke="#5a5a5a" stroke-width="0.7"/><rect x="493.4" y="103.5" width="12.1" height="11" fill="url(#coin)"/><ellipse cx="499.5" cy="103.5" rx="6" ry="2.6" fill="#f4f4f4" stroke="#cfcfcf" stroke-width="0.4"/><polygon points="480.5,127 497,116 516,124 516,138 500,148.8 481,140" fill="#dedede" stroke="#b4b4b4" stroke-width="0.4"/><polygon points="480.5,127 500,135.5 516,124 497,116" fill="#f7f7f7" stroke="#cfcfcf" stroke-width="0.4"/><polyline points="481,129.7 500,138.2 516,126.8" fill="none" stroke="#aeaeae" stroke-width="0.6"/><polyline points="481,132.4 500,140.9 516,129.6" fill="none" stroke="#aeaeae" stroke-width="0.6"/><polyline points="481,135.1 500,143.6 516,132.4" fill="none" stroke="#aeaeae" stroke-width="0.6"/><polyline points="481,137.8 500,146.3 516,135.2" fill="none" stroke="#aeaeae" stroke-width="0.6"/><polygon points="489,120.5 492,119 510.5,127.5 508,129.5" fill="#8fbf3f"/><polygon points="489,131 491.6,132 491.6,145 489,144" fill="#8fbf3f"/><polygon points="506.5,131 509,129.3 509,143 506.5,144.6" fill="#86b43a"/><text x="470.8" y="128.6" font-size="19.8" fill="#707070" text-anchor="middle" textLength="21" lengthAdjust="spacingAndGlyphs">₩</text></g><g filter="url(#ib)"><path d="M660.4,146.1 C663.9,146.2 673.5,150.4 682.0,150.4 C690.6,150.4 704.9,147.7 711.8,146.1 C718.6,144.5 721.2,141.1 723.2,140.7 C725.3,140.2 725.8,142.0 723.9,143.4 C722.0,144.8 718.7,147.5 711.8,149.1 C704.8,150.6 690.5,152.5 682.0,152.6 C673.6,152.6 664.7,150.5 661.1,149.5 C657.5,148.4 656.9,145.9 660.4,146.1 Z" fill="#b9753f" opacity="0.55"/><path d="M695.3,97.8 C695.7,96.2 697.6,93.7 699.6,91.4 C701.6,89.0 704.5,86.3 707.0,83.9 C709.5,81.5 712.5,78.4 714.5,76.9 C716.4,75.4 717.2,74.6 718.5,74.7 C719.9,74.8 721.5,76.3 722.6,77.6 C723.6,78.8 725.0,80.7 724.7,82.3 C724.5,83.9 722.9,85.7 721.2,87.4 C719.5,89.2 716.7,91.1 714.5,92.8 C712.3,94.5 710.0,96.1 708.0,97.6 C706.0,99.0 704.4,100.9 702.6,101.5 C700.8,102.1 698.4,101.8 697.2,101.2 C695.9,100.6 694.9,99.5 695.3,97.8 Z" fill="#dadccf" stroke="#c3c6b8" stroke-width="0.4"/><path d="M701.6,95.4 C702.2,93.8 706.0,90.5 708.4,88.0 C710.7,85.5 714.1,81.3 715.8,80.5 C717.5,79.8 719.2,81.6 718.5,83.2 C717.8,84.9 714.0,88.3 711.8,90.7 C709.5,93.0 706.7,96.6 705.0,97.4 C703.3,98.2 701.1,97.0 701.6,95.4 Z" fill="#b3b5a4" opacity="0.5"/><path d="M702.6,100.4 C702.7,99.8 706.8,96.1 709.1,94.2 C711.3,92.3 713.6,90.5 715.8,88.8 C718.0,87.1 720.6,85.0 722.0,83.9 C723.4,82.9 724.3,82.0 724.2,82.6 C724.1,83.2 722.8,85.8 721.2,87.6 C719.6,89.3 716.7,91.3 714.5,93.0 C712.3,94.7 710.0,96.5 708.0,97.7 C706.0,98.9 702.4,101.0 702.6,100.4 Z" fill="#8f917f" opacity="0.8"/><path d="M695.5,99.5 C693.1,99.3 690.7,101.4 687.4,103.9 C684.2,106.4 679.4,110.6 675.9,114.3 C672.5,118.0 669.3,122.3 666.9,126.1 C664.5,129.9 662.4,134.2 661.5,137.3 C660.6,140.4 660.9,143.0 661.5,144.7 C662.1,146.5 661.7,146.8 665.1,147.7 C668.6,148.6 676.3,149.9 682.0,149.9 C687.8,149.9 694.2,148.7 699.6,147.7 C705.0,146.7 710.6,145.2 714.5,144.1 C718.3,142.9 721.3,142.0 722.6,140.7 C723.9,139.3 723.4,138.4 722.3,135.9 C721.2,133.5 718.3,129.1 716.1,125.8 C713.8,122.5 711.1,119.8 708.8,116.4 C706.4,112.9 704.2,107.7 702.0,104.9 C699.8,102.0 698.0,99.6 695.5,99.5 Z" fill="url(#sack)"/><path d="M686.8,105.5 C684.4,106.8 678.5,113.0 675.3,117.0 C672.0,121.1 669.0,125.9 667.2,129.9 C665.4,133.8 664.0,138.2 664.5,140.7 C664.9,143.2 668.1,146.1 669.9,144.7 C671.7,143.4 673.2,136.8 675.3,132.6 C677.3,128.3 679.7,122.9 682.0,119.1 C684.4,115.2 688.7,111.8 689.5,109.6 C690.2,107.3 689.1,104.3 686.8,105.5 Z" fill="#f1f3ec" opacity="0.55"/><path d="M695.5,101.5 C694.5,102.4 693.0,113.4 692.6,119.1 C692.2,124.7 692.6,130.4 693.1,135.3 C693.6,140.2 694.1,146.5 695.5,148.5 C697.0,150.5 700.9,150.5 701.6,147.4 C702.3,144.3 700.3,135.5 699.9,129.9 C699.4,124.2 699.8,118.4 699.1,113.6 C698.3,108.9 696.6,100.6 695.5,101.5 Z" fill="#bcbfb0" opacity="0.6"/><ellipse cx="696.6" cy="100.2" rx="4.6" ry="2.7" fill="#e4e7db" stroke="#a3a697" stroke-width="0.6" transform="rotate(-15 696.6 100.2)"/><text transform="translate(683.6,141.8) rotate(8)" font-size="30.5" font-weight="bold" fill="#1b4450" stroke="#1b4450" stroke-width="1" text-anchor="middle">$</text></g></svg>
</body></html>
